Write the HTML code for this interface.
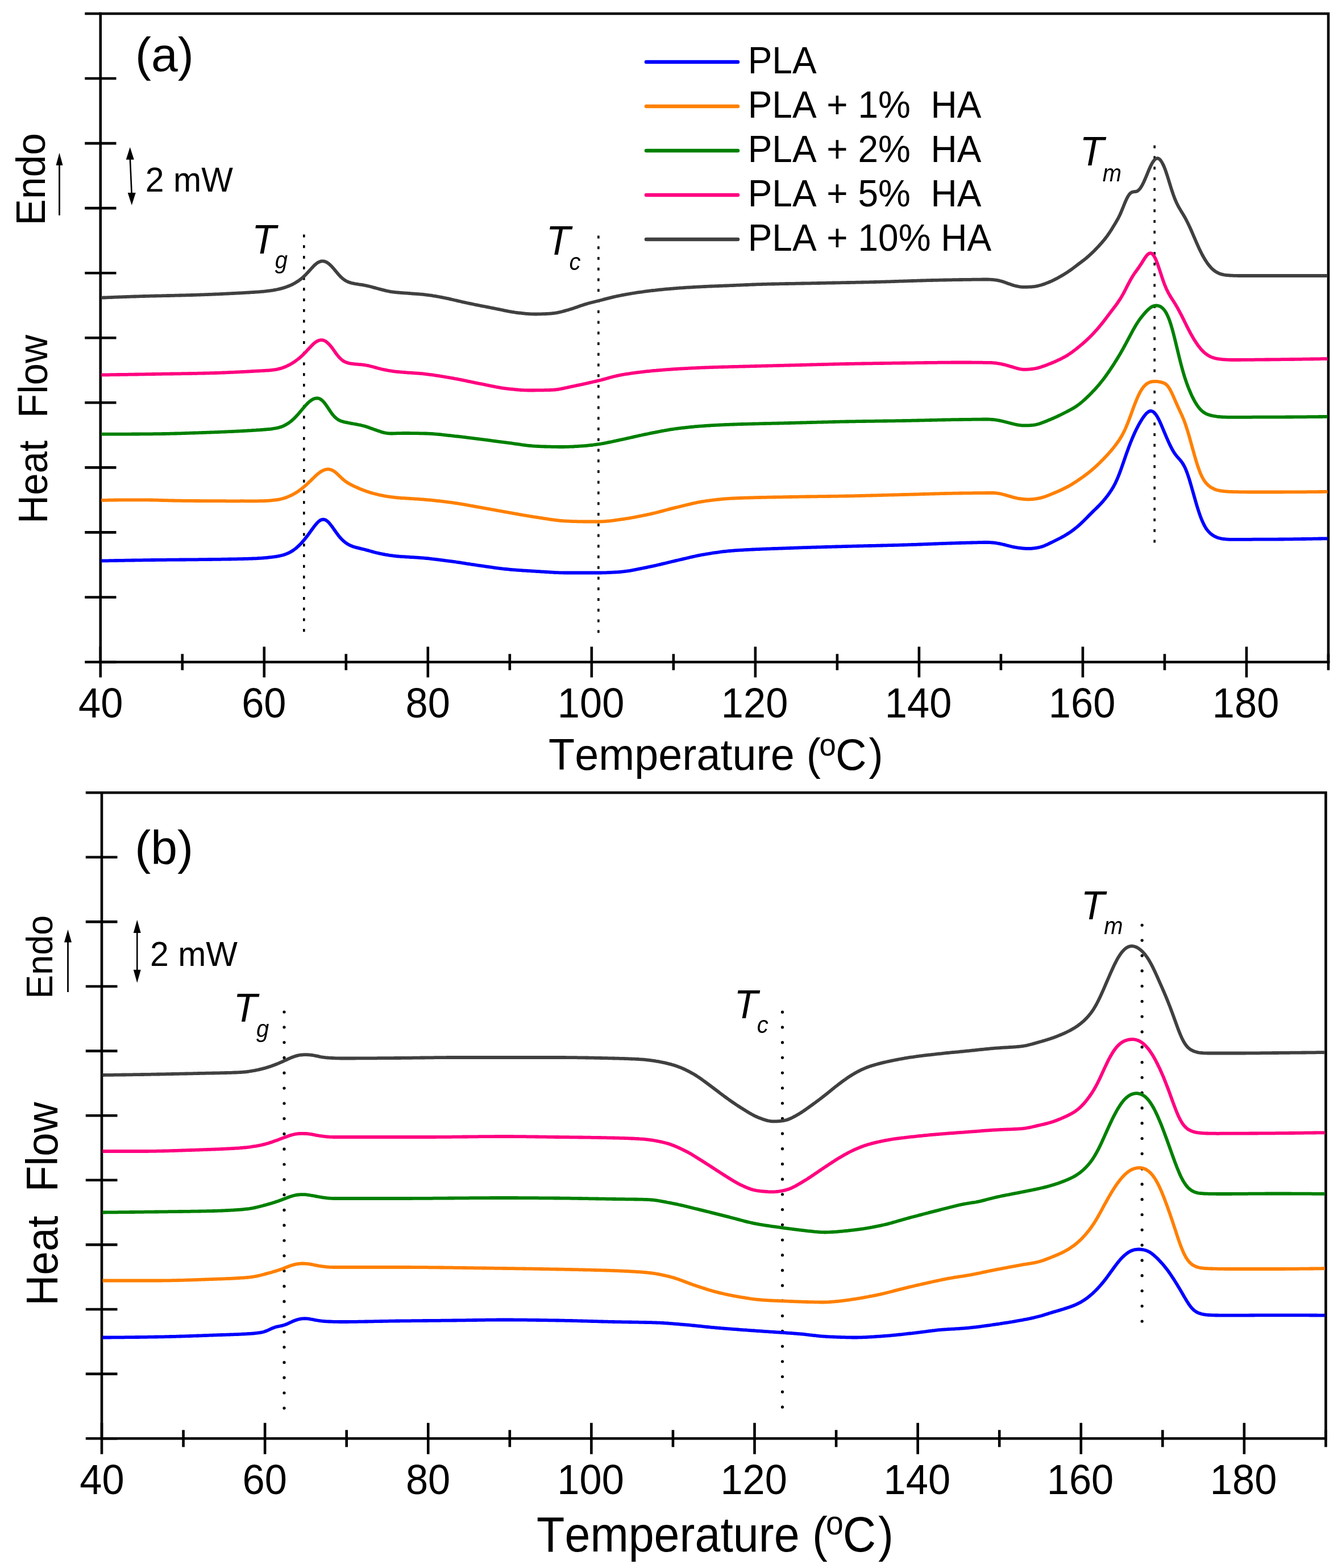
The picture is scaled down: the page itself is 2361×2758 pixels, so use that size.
<!DOCTYPE html>
<html><head><meta charset="utf-8"><title>DSC thermograms</title>
<style>
html,body{margin:0;padding:0;background:#fff;}
body{width:2361px;height:2758px;position:relative;overflow:hidden;}
text{font-family:"Liberation Sans",Arial,sans-serif;fill:#000;font-kerning:none;}
</style></head><body>
<div id="fig" style="position:absolute;left:0;top:0;width:2361px;height:2758px">
<svg xmlns="http://www.w3.org/2000/svg" width="2361" height="2758" viewBox="0 0 2361 2758" style="position:absolute;left:0;top:0">
<path d="M176.75,24.00 H2337.00 V1164.50" fill="none" stroke="#000" stroke-width="4.60" stroke-linecap="square"/>
<path d="M176.75,24.00 V1164.50 H2337.00" fill="none" stroke="#000" stroke-width="4.60" stroke-linecap="square"/>
<path d="M149.25,1164.50 H204.50 M149.25,1050.45 H204.50 M149.25,936.40 H204.50 M149.25,822.35 H204.50 M149.25,708.30 H204.50 M149.25,594.25 H204.50 M149.25,480.20 H204.50 M149.25,366.15 H204.50 M149.25,252.10 H204.50 M149.25,138.05 H204.50 M149.25,24.00 H176.75 M176.75,1137.50 V1191.50 M320.77,1150.30 V1178.70 M464.78,1137.50 V1191.50 M608.80,1150.30 V1178.70 M752.82,1137.50 V1191.50 M896.83,1150.30 V1178.70 M1040.85,1137.50 V1191.50 M1184.87,1150.30 V1178.70 M1328.88,1137.50 V1191.50 M1472.90,1150.30 V1178.70 M1616.92,1137.50 V1191.50 M1760.93,1150.30 V1178.70 M1904.95,1137.50 V1191.50 M2048.97,1150.30 V1178.70 M2192.98,1137.50 V1191.50 M2337.00,1150.30 V1178.70" fill="none" stroke="#000" stroke-width="4.60"/>
<text transform="translate(138.11,1261.70) scale(1,1.0407)" style="font-size:70.50px" text-anchor="start">40</text>
<text transform="translate(425.16,1261.70) scale(1,1.0407)" style="font-size:70.50px" text-anchor="start">60</text>
<text transform="translate(713.45,1261.70) scale(1,1.0407)" style="font-size:70.50px" text-anchor="start">80</text>
<text transform="translate(980.73,1261.70) scale(1,1.0407)" style="font-size:70.50px" text-anchor="start">100</text>
<text transform="translate(1268.76,1261.70) scale(1,1.0407)" style="font-size:70.50px" text-anchor="start">120</text>
<text transform="translate(1556.80,1261.70) scale(1,1.0407)" style="font-size:70.50px" text-anchor="start">140</text>
<text transform="translate(1844.83,1261.70) scale(1,1.0407)" style="font-size:70.50px" text-anchor="start">160</text>
<text transform="translate(2132.86,1261.70) scale(1,1.0407)" style="font-size:70.50px" text-anchor="start">180</text>
<path d="M179.00,1394.20 H2332.50 V2530.20" fill="none" stroke="#000" stroke-width="4.60" stroke-linecap="square"/>
<path d="M179.00,1394.20 V2530.20 H2332.50" fill="none" stroke="#000" stroke-width="4.60" stroke-linecap="square"/>
<path d="M150.80,2530.20 H206.50 M150.80,2416.60 H206.50 M150.80,2303.00 H206.50 M150.80,2189.40 H206.50 M150.80,2075.80 H206.50 M150.80,1962.20 H206.50 M150.80,1848.60 H206.50 M150.80,1735.00 H206.50 M150.80,1621.40 H206.50 M150.80,1507.80 H206.50 M150.80,1394.20 H179.00 M179.00,2502.70 V2557.70 M322.57,2515.20 V2545.20 M466.13,2502.70 V2557.70 M609.70,2515.20 V2545.20 M753.27,2502.70 V2557.70 M896.83,2515.20 V2545.20 M1040.40,2502.70 V2557.70 M1183.97,2515.20 V2545.20 M1327.53,2502.70 V2557.70 M1471.10,2515.20 V2545.20 M1614.67,2502.70 V2557.70 M1758.23,2515.20 V2545.20 M1901.80,2502.70 V2557.70 M2045.37,2515.20 V2545.20 M2188.93,2502.70 V2557.70 M2332.50,2515.20 V2545.20" fill="none" stroke="#000" stroke-width="4.60"/>
<text transform="translate(140.36,2628.20) scale(1,1.0407)" style="font-size:70.50px" text-anchor="start">40</text>
<text transform="translate(426.51,2628.20) scale(1,1.0407)" style="font-size:70.50px" text-anchor="start">60</text>
<text transform="translate(713.90,2628.20) scale(1,1.0407)" style="font-size:70.50px" text-anchor="start">80</text>
<text transform="translate(980.28,2628.20) scale(1,1.0407)" style="font-size:70.50px" text-anchor="start">100</text>
<text transform="translate(1267.41,2628.20) scale(1,1.0407)" style="font-size:70.50px" text-anchor="start">120</text>
<text transform="translate(1554.55,2628.20) scale(1,1.0407)" style="font-size:70.50px" text-anchor="start">140</text>
<text transform="translate(1841.68,2628.20) scale(1,1.0407)" style="font-size:70.50px" text-anchor="start">160</text>
<text transform="translate(2128.81,2628.20) scale(1,1.0407)" style="font-size:70.50px" text-anchor="start">180</text>
<path d="M534.80,412.50 V1111.50" stroke="#000" stroke-width="3.60" stroke-dasharray="5.00 13.75" stroke-linecap="butt" fill="none"/>
<path d="M1052.90,414.40 V1113.40" stroke="#000" stroke-width="3.60" stroke-dasharray="5.00 13.75" stroke-linecap="butt" fill="none"/>
<path d="M2031.20,255.80 V954.80" stroke="#000" stroke-width="3.60" stroke-dasharray="5.00 13.75" stroke-linecap="butt" fill="none"/>
<path d="M500.00,1780.00 V2479.00" stroke="#000" stroke-width="5.20" stroke-dasharray="0.01 26.79" stroke-linecap="round" fill="none"/>
<path d="M1376.50,1780.20 V2476.00" stroke="#000" stroke-width="5.20" stroke-dasharray="0.01 26.71" stroke-linecap="round" fill="none"/>
<path d="M2009.20,1627.30 V2325.00" stroke="#000" stroke-width="5.20" stroke-dasharray="0.01 26.79" stroke-linecap="round" fill="none"/>
<path d="M178.2,986.5l2,-0.1 2,0 2,0 2,-0.1 2,0 2,0 2,-0.1 2,0 2,-0.1 2,0 2,0 2,-0.1 2,0 2,0 2,-0.1 2,0 2,0 2,-0.1 2,0 2,0 2,-0.1 2,0 2,0 2,-0.1 2,0 2,0 2,-0.1 2,0 2,0 2,-0.1 2,0 2,0 2,0 2,-0.1 2,0 2,0 2,-0.1 2,0 2,0 2,0 2,-0.1 2,0 2,0 2,-0.1 2,0 2,0 2,0 2,-0.1 2,0 2,0 2,0 2,0 2,-0.1 2,0 2,0 2,0 2,0 2,-0.1 2,0 2,0 2,0 2,0 2,-0.1 2,0 2,0 2,0 2,0 2,0 2,-0.1 2,0 2,0 2,0 2,0 2,0 2,-0.1 2,0 2,0 2,0 2,0 2,0 2,-0.1 2,0 2,0 2,0 2,0 2,-0.1 2,0 2,0 2,0 2,-0.1 2,0 2,0 2,0 2,-0.1 2,0 2,0 2,0 2,-0.1 2,0 2,0 2,0 2,-0.1 2,0 2,0 2,0 2,-0.1 2,0 2,0 2,-0.1 2,0 2,0 2,-0.1 2,0 2,0 2,-0.1 2,0 2,0 2,-0.1 2,0 2,-0.1 2,0 2,-0.1 2,0 2,0 2,-0.1 2,-0.1 2,0 2,-0.1 2,0 2,-0.1 2,0 2,-0.1 2,-0.1 2,-0.1 2,0 2,-0.1 2,-0.1 2,-0.2 2,-0.1 2,-0.1 2,-0.2 2,-0.1 2,-0.2 2,-0.2 2,-0.1 2,-0.2 2,-0.3 2,-0.2 2,-0.2 2,-0.2 2,-0.3 2,-0.2 2,-0.3 2,-0.3 2,-0.4 2,-0.3 2,-0.4 2,-0.5 2,-0.5 2,-0.5 2,-0.6 2,-0.7 2,-0.8 2,-0.8 2,-0.9 2,-1 2,-1.1 2,-1.3 2,-1.3 2,-1.5 2,-1.5 2,-1.7 2,-1.8 2,-1.9 2,-1.9 2,-2.1 2,-2.3 2,-2.3 2,-2.4 2,-2.5 2,-2.6 2,-2.7 2,-2.7 2,-2.7 2,-2.8 2,-2.8 2,-2.7 2,-2.6 2,-2.4 2,-2.3 2,-1.9 2,-1.6 2,-1.2 2,-0.8 2,-0.4 2,0.2 2,0.6 2,1 2,1.6 2,1.9 2,2.3 2,2.5 2,2.6 2,2.8 2,2.9 2,2.8 2,2.8 2,2.7 2,2.6 2,2.4 2,2.2 2,2 2,1.9 2,1.7 2,1.6 2,1.4 2,1.2 2,1.1 2,1 2,0.8 2,0.8 2,0.7 2,0.6 2,0.6 2,0.5 2,0.5 2,0.5 2,0.5 2,0.5 2,0.4 2,0.5 2,0.5 2,0.6 2,0.5 2,0.5 2,0.6 2,0.5 2,0.6 2,0.5 2,0.6 2,0.5 2,0.5 2,0.5 2,0.4 2,0.5 2,0.4 2,0.4 2,0.4 2,0.4 2,0.4 2,0.3 2,0.3 2,0.4 2,0.3 2,0.2 2,0.3 2,0.3 2,0.2 2,0.2 2,0.2 2,0.2 2,0.2 2,0.1 2,0.2 2,0.1 2,0.1 2,0.2 2,0.1 2,0.1 2,0.1 2,0.1 2,0.2 2,0.1 2,0.1 2,0.1 2,0.1 2,0.2 2,0.1 2,0.1 2,0.2 2,0.1 2,0.2 2,0.1 2,0.2 2,0.2 2,0.2 2,0.2 2,0.2 2,0.2 2,0.2 2,0.3 2,0.2 2,0.2 2,0.3 2,0.2 2,0.3 2,0.2 2,0.3 2,0.2 2,0.3 2,0.2 2,0.3 2,0.3 2,0.2 2,0.3 2,0.3 2,0.2 2,0.3 2,0.3 2,0.3 2,0.2 2,0.3 2,0.3 2,0.3 2,0.3 2,0.3 2,0.3 2,0.3 2,0.3 2,0.3 2,0.4 2,0.3 2,0.3 2,0.3 2,0.3 2,0.3 2,0.3 2,0.3 2,0.3 2,0.3 2,0.3 2,0.3 2,0.3 2,0.3 2,0.3 2,0.2 2,0.3 2,0.3 2,0.3 2,0.3 2,0.3 2,0.3 2,0.2 2,0.3 2,0.3 2,0.3 2,0.3 2,0.2 2,0.3 2,0.2 2,0.3 2,0.2 2,0.3 2,0.2 2,0.2 2,0.2 2,0.2 2,0.2 2,0.2 2,0.2 2,0.2 2,0.1 2,0.2 2,0.1 2,0.2 2,0.2 2,0.1 2,0.2 2,0.1 2,0.1 2,0.2 2,0.1 2,0.1 2,0.2 2,0.1 2,0.1 2,0.1 2,0.2 2,0.1 2,0.1 2,0.1 2,0.1 2,0.2 2,0.1 2,0.1 2,0.1 2,0.2 2,0.1 2,0.1 2,0.2 2,0.1 2,0.1 2,0.1 2,0.2 2,0.1 2,0.1 2,0.1 2,0.2 2,0.1 2,0.1 2,0 2,0.1 2,0.1 2,0.1 2,0 2,0 2,0.1 2,0 2,0 2,0 2,0 2,0 2,0 2,0 2,0 2,0 2,0 2,0 2,0 2,0 2,0 2,0 2,0 2,0 2,0 2,0 2,0 2,0 2,0 2,0 2,0 2,0 2,0 2,0 2,0 2,0 2,0 2,0 2,0 2,0 2,-0.1 2,0 2,-0.1 2,0 2,-0.1 2,-0.1 2,-0.1 2,-0.1 2,-0.1 2,-0.1 2,-0.1 2,-0.1 2,-0.1 2,-0.1 2,-0.2 2,-0.1 2,-0.2 2,-0.2 2,-0.2 2,-0.2 2,-0.3 2,-0.2 2,-0.3 2,-0.3 2,-0.3 2,-0.4 2,-0.3 2,-0.4 2,-0.4 2,-0.4 2,-0.4 2,-0.4 2,-0.4 2,-0.4 2,-0.4 2,-0.4 2,-0.4 2,-0.4 2,-0.4 2,-0.4 2,-0.5 2,-0.4 2,-0.4 2,-0.4 2,-0.4 2,-0.5 2,-0.4 2,-0.4 2,-0.5 2,-0.5 2,-0.4 2,-0.5 2,-0.5 2,-0.5 2,-0.4 2,-0.5 2,-0.5 2,-0.5 2,-0.5 2,-0.5 2,-0.4 2,-0.5 2,-0.5 2,-0.4 2,-0.5 2,-0.5 2,-0.4 2,-0.5 2,-0.5 2,-0.4 2,-0.5 2,-0.5 2,-0.4 2,-0.5 2,-0.5 2,-0.5 2,-0.4 2,-0.5 2,-0.5 2,-0.4 2,-0.5 2,-0.4 2,-0.5 2,-0.4 2,-0.4 2,-0.4 2,-0.4 2,-0.4 2,-0.3 2,-0.4 2,-0.3 2,-0.4 2,-0.3 2,-0.3 2,-0.3 2,-0.3 2,-0.4 2,-0.3 2,-0.3 2,-0.3 2,-0.3 2,-0.2 2,-0.3 2,-0.3 2,-0.3 2,-0.2 2,-0.3 2,-0.2 2,-0.2 2,-0.2 2,-0.2 2,-0.2 2,-0.2 2,-0.2 2,-0.2 2,-0.1 2,-0.2 2,-0.1 2,-0.1 2,-0.2 2,-0.1 2,-0.1 2,-0.1 2,-0.1 2,-0.2 2,-0.1 2,-0.1 2,-0.1 2,-0.1 2,-0.1 2,-0.1 2,-0.1 2,-0.1 2,-0.1 2,-0.1 2,-0.1 2,-0.1 2,0 2,-0.1 2,-0.1 2,-0.1 2,-0.1 2,-0.1 2,0 2,-0.1 2,-0.1 2,-0.1 2,0 2,-0.1 2,-0.1 2,-0.1 2,0 2,-0.1 2,-0.1 2,0 2,-0.1 2,-0.1 2,0 2,-0.1 2,-0.1 2,-0.1 2,0 2,-0.1 2,-0.1 2,0 2,-0.1 2,-0.1 2,-0.1 2,0 2,-0.1 2,-0.1 2,0 2,-0.1 2,-0.1 2,0 2,-0.1 2,-0.1 2,0 2,-0.1 2,0 2,-0.1 2,-0.1 2,0 2,-0.1 2,-0.1 2,0 2,-0.1 2,0 2,-0.1 2,-0.1 2,0 2,-0.1 2,0 2,-0.1 2,0 2,-0.1 2,-0.1 2,0 2,-0.1 2,0 2,-0.1 2,0 2,-0.1 2,-0.1 2,0 2,-0.1 2,0 2,-0.1 2,0 2,-0.1 2,0 2,-0.1 2,0 2,-0.1 2,-0.1 2,0 2,-0.1 2,0 2,-0.1 2,0 2,-0.1 2,0 2,-0.1 2,0 2,-0.1 2,0 2,-0.1 2,0 2,-0.1 2,0 2,-0.1 2,0 2,-0.1 2,0 2,-0.1 2,0 2,0 2,-0.1 2,0 2,-0.1 2,0 2,-0.1 2,0 2,-0.1 2,0 2,-0.1 2,0 2,-0.1 2,0 2,-0.1 2,0 2,-0.1 2,0 2,-0.1 2,0 2,-0.1 2,0 2,-0.1 2,0 2,-0.1 2,0 2,-0.1 2,0 2,-0.1 2,-0.1 2,0 2,-0.1 2,0 2,-0.1 2,-0.1 2,0 2,-0.1 2,-0.1 2,0 2,-0.1 2,-0.1 2,0 2,-0.1 2,-0.1 2,-0.1 2,0 2,-0.1 2,-0.1 2,-0.1 2,0 2,-0.1 2,-0.1 2,-0.1 2,-0.1 2,0 2,-0.1 2,-0.1 2,-0.1 2,0 2,-0.1 2,-0.1 2,-0.1 2,-0.1 2,0 2,-0.1 2,-0.1 2,0 2,-0.1 2,-0.1 2,-0.1 2,0 2,-0.1 2,0 2,-0.1 2,-0.1 2,0 2,-0.1 2,0 2,-0.1 2,-0.1 2,0 2,-0.1 2,0 2,-0.1 2,0 2,-0.1 2,0 2,-0.1 2,0 2,-0.1 2,0 2,-0.1 2,0 2,-0.1 2,0 2,-0.1 2,0 2,0 2,-0.1 2,0 2,-0.1 2,0 2,0 2,0 2,0 2,0.1 2,0.1 2,0.1 2,0.2 2,0.2 2,0.2 2,0.3 2,0.3 2,0.3 2,0.4 2,0.4 2,0.4 2,0.5 2,0.4 2,0.5 2,0.6 2,0.5 2,0.5 2,0.5 2,0.5 2,0.5 2,0.4 2,0.4 2,0.4 2,0.3 2,0.3 2,0.3 2,0.2 2,0.2 2,0.3 2,0.2 2,0.1 2,0.2 2,0.1 2,0 2,0 2,0 2,-0.1 2,-0.2 2,-0.2 2,-0.2 2,-0.3 2,-0.3 2,-0.4 2,-0.4 2,-0.5 2,-0.6 2,-0.6 2,-0.7 2,-0.8 2,-0.9 2,-0.9 2,-0.9 2,-1 2,-1 2,-0.9 2,-1 2,-1 2,-1 2,-1 2,-1 2,-1 2,-1 2,-1 2,-1.1 2,-1.1 2,-1.1 2,-1.2 2,-1.2 2,-1.3 2,-1.2 2,-1.4 2,-1.4 2,-1.4 2,-1.5 2,-1.5 2,-1.6 2,-1.6 2,-1.7 2,-1.7 2,-1.8 2,-1.9 2,-1.9 2,-1.9 2,-2 2,-2 2,-2 2,-2.1 2,-2 2,-2 2,-2 2,-2 2,-2 2,-1.9 2,-1.9 2,-2 2,-2 2,-2 2,-2.1 2,-2.2 2,-2.2 2,-2.4 2,-2.4 2,-2.5 2,-2.6 2,-2.7 2,-2.9 2,-2.9 2,-3.1 2,-3.3 2,-3.6 2,-3.9 2,-4.2 2,-4.6 2,-4.9 2,-5.2 2,-5.5 2,-5.6 2,-5.8 2,-5.8 2,-5.8 2,-5.7 2,-5.5 2,-5.5 2,-5.2 2,-5 2,-4.9 2,-4.6 2,-4.5 2,-4.2 2,-4.1 2,-3.9 2,-3.6 2,-3.5 2,-3.3 2,-3.1 2,-2.9 2,-2.6 2,-2.4 2,-1.9 2,-1.6 2,-1 2,-0.5 2,0.2 2,0.8 2,1.4 2,2.1 2,2.7 2,3.2 2,3.7 2,4.1 2,4.3 2,4.7 2,4.7 2,4.8 2,4.8 2,4.7 2,4.6 2,4.4 2,4.3 2,4 2,3.9 2,3.5 2,3.2 2,2.8 2,2.5 2,2.3 2,2.3 2,2.2 2,2.5 2,2.8 2,3.2 2,3.8 2,4.4 2,5.1 2,5.7 2,6.1 2,6.7 2,6.8 2,7.1 2,7.1 2,7 2,7 2,6.7 2,6.4 2,6 2,5.6 2,5.1 2,4.6 2,4.2 2,3.7 2,3.2 2,2.7 2,2.4 2,2.1 2,1.8 2,1.5 2,1.4 2,1.2 2,1 2,0.9 2,0.8 2,0.6 2,0.5 2,0.5 2,0.4 2,0.3 2,0.2 2,0.2 2,0.2 2,0.1 2,0.1 2,0 2,0 2,0 2,0 2,0 2,0 2,0 2,0 2,0 2,0 2,0 2,0 2,0 2,0 2,0 2,0 2,0 2,0 2,0 2,0 2,-0.1 2,0 2,0 2,0 2,0 2,0 2,0 2,0 2,0 2,0 2,0 2,0 2,0 2,0 2,0 2,0 2,-0.1 2,0 2,0 2,0 2,0 2,0 2,0 2,-0.1 2,0 2,0 2,0 2,0 2,-0.1 2,0 2,0 2,0 2,-0.1 2,0 2,0 2,0 2,-0.1 2,0 2,0 2,0 2,-0.1 2,0 2,0 2,-0.1 2,0 2,0 2,0 2,-0.1 2,0 2,0 2,-0.1 2,0 2,0 2,-0.1 2,0 2,0 2,-0.1 2,0 2,-0.1 2,0 2,0 2,-0.1 2,0 2,0 2,-0.1 2,0 1.3,0" fill="none" stroke="#0000ff" stroke-width="5.8" stroke-linejoin="round" stroke-linecap="butt"/>
<path d="M180.5,2352.5l2,0 2,0 2,0 2,0 2,0 2,0 2,0 2,-0.1 2,0 2,0 2,0 2,0 2,0 2,0 2,-0.1 2,0 2,0 2,0 2,0 2,-0.1 2,0 2,0 2,0 2,0 2,-0.1 2,0 2,0 2,0 2,-0.1 2,0 2,0 2,0 2,-0.1 2,0 2,0 2,-0.1 2,0 2,0 2,0 2,-0.1 2,0 2,0 2,-0.1 2,0 2,0 2,-0.1 2,0 2,0 2,-0.1 2,0 2,0 2,-0.1 2,0 2,0 2,-0.1 2,0 2,-0.1 2,0 2,-0.1 2,0 2,-0.1 2,0 2,-0.1 2,0 2,-0.1 2,-0.1 2,0 2,-0.1 2,0 2,-0.1 2,-0.1 2,0 2,-0.1 2,0 2,-0.1 2,-0.1 2,0 2,-0.1 2,-0.1 2,-0.1 2,0 2,-0.1 2,-0.1 2,0 2,-0.1 2,-0.1 2,0 2,-0.1 2,-0.1 2,-0.1 2,0 2,-0.1 2,-0.1 2,-0.1 2,0 2,-0.1 2,-0.1 2,-0.1 2,0 2,-0.1 2,-0.1 2,0 2,-0.1 2,-0.1 2,0 2,-0.1 2,-0.1 2,0 2,-0.1 2,0 2,-0.1 2,-0.1 2,-0.1 2,0 2,-0.1 2,-0.1 2,-0.1 2,0 2,-0.1 2,-0.1 2,-0.1 2,-0.1 2,-0.1 2,-0.1 2,-0.1 2,-0.1 2,-0.2 2,-0.1 2,-0.1 2,-0.1 2,-0.2 2,-0.1 2,-0.2 2,-0.2 2,-0.2 2,-0.2 2,-0.3 2,-0.3 2,-0.3 2,-0.4 2,-0.4 2,-0.5 2,-0.7 2,-0.8 2,-0.8 2,-0.9 2,-0.9 2,-1 2,-0.9 2,-0.8 2,-0.7 2,-0.7 2,-0.6 2,-0.4 2,-0.4 2,-0.4 2,-0.4 2,-0.4 2,-0.6 2,-0.6 2,-0.7 2,-0.8 2,-0.9 2,-0.9 2,-1 2,-0.9 2,-0.9 2,-0.9 2,-0.8 2,-0.7 2,-0.6 2,-0.6 2,-0.5 2,-0.4 2,-0.3 2,-0.2 2,-0.1 2,-0.1 2,0.1 2,0.1 2,0.3 2,0.2 2,0.4 2,0.3 2,0.4 2,0.4 2,0.4 2,0.3 2,0.4 2,0.3 2,0.3 2,0.3 2,0.2 2,0.2 2,0.2 2,0.1 2,0.2 2,0.1 2,0.1 2,0 2,0.1 2,0.1 2,0.1 2,0 2,0.1 2,0 2,0 2,0.1 2,0 2,0 2,0 2,0 2,0 2,0 2,0 2,0 2,-0.1 2,0 2,0 2,0 2,0 2,-0.1 2,0 2,0 2,-0.1 2,0 2,0 2,-0.1 2,0 2,0 2,-0.1 2,0 2,0 2,-0.1 2,0 2,0 2,-0.1 2,0 2,-0.1 2,0 2,0 2,-0.1 2,0 2,-0.1 2,0 2,0 2,-0.1 2,0 2,-0.1 2,0 2,0 2,-0.1 2,0 2,0 2,-0.1 2,0 2,0 2,-0.1 2,0 2,0 2,0 2,-0.1 2,0 2,0 2,0 2,0 2,-0.1 2,0 2,0 2,0 2,0 2,-0.1 2,0 2,0 2,0 2,0 2,-0.1 2,0 2,0 2,0 2,0 2,-0.1 2,0 2,0 2,0 2,0 2,-0.1 2,0 2,0 2,0 2,0 2,-0.1 2,0 2,0 2,0 2,0 2,0 2,-0.1 2,0 2,0 2,0 2,0 2,-0.1 2,0 2,0 2,0 2,0 2,-0.1 2,0 2,0 2,0 2,-0.1 2,0 2,0 2,0 2,-0.1 2,0 2,0 2,0 2,-0.1 2,0 2,0 2,-0.1 2,0 2,0 2,-0.1 2,0 2,0 2,0 2,-0.1 2,0 2,0 2,-0.1 2,0 2,0 2,0 2,-0.1 2,0 2,0 2,0 2,-0.1 2,0 2,0 2,0 2,0 2,0 2,-0.1 2,0 2,0 2,0 2,0 2,0 2,0 2,0 2,0 2,0 2,0 2,0 2,0 2,0 2,0 2,0.1 2,0 2,0 2,0 2,0 2,0 2,0 2,0.1 2,0 2,0 2,0 2,0 2,0.1 2,0 2,0 2,0 2,0.1 2,0 2,0 2,0 2,0.1 2,0 2,0 2,0.1 2,0 2,0 2,0 2,0.1 2,0 2,0 2,0.1 2,0 2,0 2,0.1 2,0 2,0 2,0 2,0.1 2,0 2,0 2,0.1 2,0 2,0 2,0.1 2,0 2,0.1 2,0 2,0 2,0.1 2,0 2,0.1 2,0 2,0.1 2,0 2,0.1 2,0 2,0.1 2,0 2,0.1 2,0.1 2,0 2,0.1 2,0 2,0.1 2,0 2,0.1 2,0 2,0.1 2,0.1 2,0 2,0.1 2,0 2,0.1 2,0 2,0.1 2,0.1 2,0 2,0.1 2,0 2,0.1 2,0 2,0.1 2,0 2,0.1 2,0 2,0.1 2,0 2,0.1 2,0 2,0.1 2,0 2,0 2,0.1 2,0 2,0 2,0.1 2,0 2,0 2,0.1 2,0 2,0 2,0.1 2,0 2,0 2,0.1 2,0 2,0 2,0.1 2,0 2,0 2,0.1 2,0 2,0 2,0.1 2,0 2,0.1 2,0 2,0.1 2,0 2,0 2,0.1 2,0 2,0.1 2,0.1 2,0 2,0.1 2,0.1 2,0 2,0.1 2,0.1 2,0.1 2,0.1 2,0.1 2,0.2 2,0.1 2,0.1 2,0.2 2,0.1 2,0.2 2,0.1 2,0.2 2,0.2 2,0.1 2,0.2 2,0.1 2,0.2 2,0.2 2,0.2 2,0.1 2,0.2 2,0.2 2,0.1 2,0.2 2,0.2 2,0.2 2,0.2 2,0.2 2,0.2 2,0.2 2,0.2 2,0.2 2,0.2 2,0.2 2,0.2 2,0.2 2,0.2 2,0.3 2,0.2 2,0.2 2,0.2 2,0.2 2,0.2 2,0.2 2,0.2 2,0.2 2,0.1 2,0.2 2,0.2 2,0.2 2,0.2 2,0.1 2,0.2 2,0.2 2,0.1 2,0.2 2,0.1 2,0.2 2,0.2 2,0.1 2,0.2 2,0.1 2,0.2 2,0.2 2,0.1 2,0.2 2,0.1 2,0.2 2,0.1 2,0.2 2,0.1 2,0.2 2,0.1 2,0.2 2,0.1 2,0.1 2,0.2 2,0.1 2,0.2 2,0.1 2,0.2 2,0.1 2,0.1 2,0.2 2,0.1 2,0.2 2,0.1 2,0.1 2,0.2 2,0.1 2,0.1 2,0.2 2,0.1 2,0.2 2,0.1 2,0.1 2,0.2 2,0.1 2,0.1 2,0.2 2,0.1 2,0.1 2,0.2 2,0.1 2,0.1 2,0.2 2,0.1 2,0.1 2,0.2 2,0.1 2,0.1 2,0.2 2,0.1 2,0.2 2,0.1 2,0.1 2,0.2 2,0.1 2,0.2 2,0.1 2,0.2 2,0.2 2,0.1 2,0.2 2,0.2 2,0.2 2,0.2 2,0.2 2,0.3 2,0.2 2,0.2 2,0.3 2,0.2 2,0.2 2,0.3 2,0.2 2,0.2 2,0.3 2,0.2 2,0.2 2,0.2 2,0.2 2,0.1 2,0.2 2,0.1 2,0.1 2,0.2 2,0.1 2,0.1 2,0.1 2,0 2,0.1 2,0.1 2,0.1 2,0.1 2,0.1 2,0 2,0.1 2,0.1 2,0.1 2,0 2,0.1 2,0 2,0.1 2,0 2,0.1 2,0 2,0 2,0.1 2,0 2,0 2,0 2,0 2,0 2,-0.1 2,0 2,-0.1 2,0 2,-0.1 2,-0.1 2,0 2,-0.1 2,-0.1 2,-0.2 2,-0.1 2,-0.1 2,-0.1 2,-0.1 2,-0.2 2,-0.1 2,-0.1 2,-0.2 2,-0.1 2,-0.1 2,-0.2 2,-0.1 2,-0.2 2,-0.1 2,-0.2 2,-0.1 2,-0.2 2,-0.1 2,-0.2 2,-0.2 2,-0.2 2,-0.2 2,-0.2 2,-0.2 2,-0.2 2,-0.2 2,-0.2 2,-0.2 2,-0.2 2,-0.3 2,-0.2 2,-0.2 2,-0.2 2,-0.3 2,-0.2 2,-0.2 2,-0.2 2,-0.2 2,-0.3 2,-0.2 2,-0.2 2,-0.3 2,-0.2 2,-0.3 2,-0.2 2,-0.3 2,-0.3 2,-0.2 2,-0.3 2,-0.2 2,-0.3 2,-0.3 2,-0.2 2,-0.3 2,-0.2 2,-0.3 2,-0.2 2,-0.2 2,-0.3 2,-0.2 2,-0.2 2,-0.2 2,-0.1 2,-0.2 2,-0.2 2,-0.1 2,-0.2 2,-0.1 2,-0.1 2,-0.2 2,-0.1 2,-0.1 2,-0.1 2,-0.1 2,-0.1 2,-0.2 2,-0.1 2,-0.1 2,-0.1 2,-0.2 2,-0.1 2,-0.1 2,-0.2 2,-0.1 2,-0.2 2,-0.2 2,-0.1 2,-0.2 2,-0.2 2,-0.2 2,-0.2 2,-0.3 2,-0.2 2,-0.2 2,-0.3 2,-0.2 2,-0.3 2,-0.2 2,-0.3 2,-0.3 2,-0.2 2,-0.3 2,-0.3 2,-0.3 2,-0.3 2,-0.2 2,-0.3 2,-0.3 2,-0.3 2,-0.3 2,-0.3 2,-0.3 2,-0.3 2,-0.2 2,-0.3 2,-0.3 2,-0.4 2,-0.3 2,-0.3 2,-0.3 2,-0.3 2,-0.3 2,-0.3 2,-0.4 2,-0.3 2,-0.3 2,-0.4 2,-0.3 2,-0.4 2,-0.3 2,-0.4 2,-0.3 2,-0.4 2,-0.4 2,-0.3 2,-0.4 2,-0.4 2,-0.4 2,-0.3 2,-0.4 2,-0.4 2,-0.4 2,-0.5 2,-0.4 2,-0.4 2,-0.5 2,-0.5 2,-0.5 2,-0.5 2,-0.5 2,-0.6 2,-0.5 2,-0.6 2,-0.6 2,-0.7 2,-0.6 2,-0.6 2,-0.6 2,-0.7 2,-0.6 2,-0.6 2,-0.6 2,-0.6 2,-0.5 2,-0.6 2,-0.6 2,-0.6 2,-0.6 2,-0.6 2,-0.6 2,-0.6 2,-0.7 2,-0.6 2,-0.6 2,-0.7 2,-0.7 2,-0.7 2,-0.7 2,-0.8 2,-0.7 2,-0.8 2,-0.9 2,-0.9 2,-1 2,-1 2,-1 2,-1.2 2,-1.2 2,-1.2 2,-1.3 2,-1.4 2,-1.5 2,-1.5 2,-1.6 2,-1.7 2,-1.7 2,-1.8 2,-1.9 2,-1.9 2,-2 2,-2.1 2,-2.1 2,-2.2 2,-2.3 2,-2.3 2,-2.4 2,-2.5 2,-2.5 2,-2.6 2,-2.7 2,-2.7 2,-2.8 2,-2.7 2,-2.8 2,-2.8 2,-2.8 2,-2.7 2,-2.6 2,-2.6 2,-2.4 2,-2.4 2,-2.2 2,-2.1 2,-1.9 2,-1.9 2,-1.6 2,-1.6 2,-1.4 2,-1.3 2,-1.1 2,-0.9 2,-0.8 2,-0.6 2,-0.4 2,-0.3 2,-0.3 2,-0.1 2,0 2,0.1 2,0.2 2,0.3 2,0.4 2,0.5 2,0.6 2,0.8 2,0.9 2,1.1 2,1.2 2,1.5 2,1.5 2,1.7 2,1.8 2,1.8 2,2 2,2 2,2.1 2,2.2 2,2.2 2,2.3 2,2.4 2,2.5 2,2.5 2,2.7 2,2.7 2,2.9 2,2.9 2,3 2,3.1 2,3.1 2,3.2 2,3.2 2,3.3 2,3.3 2,3.4 2,3.4 2,3.4 2,3.5 2,3.4 2,3.4 2,3.3 2,3.1 2,3 2,2.7 2,2.4 2,2.1 2,1.9 2,1.6 2,1.3 2,1.1 2,0.9 2,0.7 2,0.7 2,0.5 2,0.4 2,0.4 2,0.3 2,0.3 2,0.2 2,0.1 2,0.2 2,0 2,0.1 2,0.1 2,0 2,0.1 2,0 2,0 2,0.1 2,0 2,0 2,0.1 2,0 2,0 2,0 2,0 2,0 2,0 2,0 2,0 2,0 2,0 2,0 2,0 2,0 2,0 2,0 2,0 2,0 2,-0.1 2,0 2,0 2,0 2,0 2,0 2,-0.1 2,0 2,0 2,0 2,0 2,-0.1 2,0 2,0 2,0 2,0 2,0 2,-0.1 2,0 2,0 2,0 2,0 2,0 2,0 2,0 2,0 2,0 2,0 2,0 2,0 2,0 2,0 2,0 2,0 2,0 2,0 2,0 2,0 2,0 2,0 2,0 2,0 2,0 2,0 2,0 2,0 2,0 2,0 2,0 2,0 2,0 2,0.1 2,0 2,0 2,0 2,0 2,0 2,0 2,0 2,0.1 2,0 2,0 2,0 2,0 2,0 2,0 2,0.1 2,0 2,0 2,0 2,0 2,0.1 2,0 0.5,0" fill="none" stroke="#0000ff" stroke-width="5.8" stroke-linejoin="round" stroke-linecap="butt"/>
<path d="M178.2,880.0l2,-0.1 2,0 2,-0.1 2,0 2,0 2,-0.1 2,0 2,-0.1 2,0 2,0 2,-0.1 2,0 2,0 2,0 2,-0.1 2,0 2,0 2,0 2,0 2,-0.1 2,0 2,0 2,0 2,0 2,0 2,0 2,0 2,0 2,0 2,0 2,0 2,0 2,0 2,0 2,0 2,0 2,0 2,0 2,0 2,0.1 2,0 2,0 2,0.1 2,0 2,0 2,0.1 2,0 2,0.1 2,0 2,0.1 2,0 2,0.1 2,0.1 2,0 2,0.1 2,0 2,0.1 2,0 2,0.1 2,0 2,0.1 2,0 2,0.1 2,0 2,0.1 2,0 2,0 2,0.1 2,0 2,0 2,0.1 2,0 2,0 2,0 2,0 2,0.1 2,0 2,0 2,0 2,0 2,0 2,0.1 2,0 2,0 2,0 2,0 2,0.1 2,0 2,0 2,0 2,0 2,0 2,0 2,0.1 2,0 2,0 2,0 2,0 2,0 2,0 2,0 2,0 2,0 2,0 2,0 2,0 2,0 2,0 2,0 2,0.1 2,0 2,0 2,0 2,0 2,0 2,0 2,0 2,0 2,0 2,0 2,0 2,0 2,-0.1 2,0 2,0 2,0.1 2,0 2,0 2,0 2,0 2,0 2,0 2,0 2,0 2,0 2,0 2,0 2,0 2,-0.1 2,0 2,0 2,-0.1 2,0 2,-0.1 2,-0.1 2,-0.1 2,-0.2 2,-0.1 2,-0.2 2,-0.2 2,-0.2 2,-0.2 2,-0.2 2,-0.3 2,-0.2 2,-0.4 2,-0.3 2,-0.5 2,-0.5 2,-0.5 2,-0.7 2,-0.6 2,-0.8 2,-0.8 2,-0.8 2,-0.9 2,-0.9 2,-1 2,-1.1 2,-1.1 2,-1.2 2,-1.2 2,-1.3 2,-1.4 2,-1.5 2,-1.5 2,-1.6 2,-1.6 2,-1.7 2,-1.8 2,-1.8 2,-1.9 2,-1.9 2,-1.9 2,-1.9 2,-2 2,-1.9 2,-2 2,-1.8 2,-1.8 2,-1.7 2,-1.5 2,-1.4 2,-1.2 2,-1 2,-0.9 2,-0.7 2,-0.4 2,-0.2 2,0 2,0.3 2,0.5 2,0.8 2,1 2,1.3 2,1.5 2,1.7 2,1.8 2,2 2,1.9 2,1.9 2,1.9 2,1.7 2,1.7 2,1.5 2,1.4 2,1.3 2,1.1 2,1.1 2,1.1 2,1 2,0.9 2,1 2,0.9 2,0.9 2,0.9 2,0.9 2,0.8 2,0.8 2,0.8 2,0.8 2,0.7 2,0.7 2,0.7 2,0.6 2,0.7 2,0.6 2,0.6 2,0.6 2,0.5 2,0.5 2,0.5 2,0.5 2,0.5 2,0.4 2,0.4 2,0.4 2,0.4 2,0.4 2,0.3 2,0.4 2,0.3 2,0.3 2,0.3 2,0.3 2,0.2 2,0.3 2,0.2 2,0.2 2,0.2 2,0.2 2,0.2 2,0.1 2,0.2 2,0.1 2,0.1 2,0.2 2,0.1 2,0.1 2,0.1 2,0.2 2,0.1 2,0.1 2,0.1 2,0.1 2,0.2 2,0.1 2,0.1 2,0.1 2,0.2 2,0.1 2,0.2 2,0.1 2,0.2 2,0.2 2,0.2 2,0.1 2,0.2 2,0.2 2,0.2 2,0.2 2,0.2 2,0.2 2,0.2 2,0.3 2,0.2 2,0.2 2,0.2 2,0.3 2,0.2 2,0.2 2,0.3 2,0.2 2,0.3 2,0.2 2,0.3 2,0.2 2,0.3 2,0.3 2,0.3 2,0.3 2,0.2 2,0.4 2,0.3 2,0.3 2,0.3 2,0.4 2,0.3 2,0.3 2,0.4 2,0.3 2,0.4 2,0.4 2,0.3 2,0.4 2,0.3 2,0.4 2,0.4 2,0.3 2,0.4 2,0.4 2,0.3 2,0.4 2,0.3 2,0.4 2,0.3 2,0.4 2,0.3 2,0.4 2,0.4 2,0.3 2,0.4 2,0.4 2,0.3 2,0.4 2,0.3 2,0.4 2,0.4 2,0.3 2,0.4 2,0.4 2,0.3 2,0.4 2,0.3 2,0.4 2,0.4 2,0.3 2,0.4 2,0.3 2,0.4 2,0.3 2,0.4 2,0.3 2,0.4 2,0.3 2,0.4 2,0.4 2,0.3 2,0.4 2,0.3 2,0.4 2,0.3 2,0.4 2,0.3 2,0.3 2,0.4 2,0.3 2,0.3 2,0.3 2,0.4 2,0.3 2,0.3 2,0.3 2,0.3 2,0.3 2,0.3 2,0.3 2,0.3 2,0.4 2,0.3 2,0.3 2,0.3 2,0.3 2,0.3 2,0.3 2,0.3 2,0.3 2,0.3 2,0.2 2,0.3 2,0.2 2,0.3 2,0.2 2,0.2 2,0.1 2,0.2 2,0.1 2,0.1 2,0.2 2,0.1 2,0 2,0.1 2,0.1 2,0.1 2,0.1 2,0 2,0.1 2,0 2,0.1 2,0 2,0.1 2,0 2,0 2,0.1 2,0 2,0 2,0 2,0 2,0 2,0 2,0 2,0 2,0 2,0 2,0 2,0 2,0 2,0 2,-0.1 2,0 2,-0.1 2,-0.1 2,-0.1 2,-0.2 2,-0.2 2,-0.2 2,-0.2 2,-0.2 2,-0.3 2,-0.2 2,-0.3 2,-0.3 2,-0.2 2,-0.3 2,-0.3 2,-0.2 2,-0.3 2,-0.3 2,-0.3 2,-0.3 2,-0.3 2,-0.3 2,-0.3 2,-0.3 2,-0.4 2,-0.3 2,-0.4 2,-0.4 2,-0.3 2,-0.4 2,-0.4 2,-0.4 2,-0.4 2,-0.4 2,-0.4 2,-0.4 2,-0.4 2,-0.4 2,-0.4 2,-0.4 2,-0.5 2,-0.4 2,-0.4 2,-0.5 2,-0.5 2,-0.4 2,-0.5 2,-0.5 2,-0.5 2,-0.5 2,-0.6 2,-0.5 2,-0.5 2,-0.5 2,-0.6 2,-0.5 2,-0.5 2,-0.5 2,-0.6 2,-0.5 2,-0.5 2,-0.5 2,-0.5 2,-0.5 2,-0.5 2,-0.5 2,-0.4 2,-0.5 2,-0.5 2,-0.5 2,-0.5 2,-0.5 2,-0.5 2,-0.5 2,-0.5 2,-0.5 2,-0.4 2,-0.5 2,-0.5 2,-0.5 2,-0.4 2,-0.4 2,-0.5 2,-0.4 2,-0.4 2,-0.4 2,-0.3 2,-0.4 2,-0.3 2,-0.3 2,-0.3 2,-0.3 2,-0.3 2,-0.2 2,-0.3 2,-0.3 2,-0.2 2,-0.3 2,-0.2 2,-0.2 2,-0.3 2,-0.2 2,-0.2 2,-0.2 2,-0.2 2,-0.2 2,-0.2 2,-0.2 2,-0.1 2,-0.2 2,-0.1 2,-0.2 2,-0.1 2,-0.1 2,-0.1 2,-0.1 2,-0.1 2,-0.1 2,-0.1 2,0 2,-0.1 2,-0.1 2,-0.1 2,0 2,-0.1 2,-0.1 2,0 2,-0.1 2,0 2,-0.1 2,-0.1 2,0 2,-0.1 2,0 2,-0.1 2,0 2,-0.1 2,0 2,-0.1 2,0 2,-0.1 2,0 2,0 2,-0.1 2,0 2,-0.1 2,0 2,0 2,-0.1 2,0 2,-0.1 2,0 2,0 2,-0.1 2,0 2,0 2,-0.1 2,0 2,0 2,-0.1 2,0 2,-0.1 2,0 2,0 2,-0.1 2,0 2,0 2,-0.1 2,0 2,0 2,-0.1 2,0 2,0 2,-0.1 2,0 2,0 2,-0.1 2,0 2,0 2,-0.1 2,0 2,0 2,0 2,-0.1 2,0 2,0 2,0 2,-0.1 2,0 2,0 2,-0.1 2,0 2,0 2,0 2,-0.1 2,0 2,0 2,0 2,-0.1 2,0 2,0 2,-0.1 2,0 2,0 2,0 2,-0.1 2,0 2,0 2,-0.1 2,0 2,0 2,-0.1 2,0 2,0 2,-0.1 2,0 2,0 2,-0.1 2,0 2,-0.1 2,0 2,0 2,-0.1 2,0 2,-0.1 2,0 2,-0.1 2,0 2,-0.1 2,0 2,-0.1 2,0 2,-0.1 2,0 2,-0.1 2,0 2,-0.1 2,0 2,-0.1 2,0 2,-0.1 2,0 2,-0.1 2,0 2,-0.1 2,0 2,-0.1 2,-0.1 2,0 2,-0.1 2,0 2,-0.1 2,0 2,-0.1 2,0 2,-0.1 2,0 2,-0.1 2,0 2,-0.1 2,0 2,-0.1 2,-0.1 2,0 2,-0.1 2,0 2,-0.1 2,0 2,-0.1 2,0 2,-0.1 2,0 2,-0.1 2,0 2,-0.1 2,0 2,-0.1 2,-0.1 2,0 2,-0.1 2,0 2,-0.1 2,-0.1 2,0 2,-0.1 2,0 2,-0.1 2,0 2,-0.1 2,-0.1 2,0 2,-0.1 2,0 2,-0.1 2,0 2,-0.1 2,0 2,-0.1 2,0 2,-0.1 2,0 2,-0.1 2,0 2,-0.1 2,0 2,-0.1 2,0 2,0 2,-0.1 2,0 2,-0.1 2,0 2,0 2,0 2,-0.1 2,0 2,0 2,-0.1 2,0 2,0 2,0 2,0 2,-0.1 2,0 2,0 2,0 2,-0.1 2,0 2,0 2,0 2,0 2,-0.1 2,0 2,0 2,0 2,0 2,0 2,-0.1 2,0 2,0 2,0 2,0 2,0 2,0 2,0 2,0.1 2,0.2 2,0.2 2,0.3 2,0.3 2,0.4 2,0.5 2,0.5 2,0.5 2,0.5 2,0.6 2,0.6 2,0.6 2,0.6 2,0.5 2,0.6 2,0.6 2,0.5 2,0.5 2,0.4 2,0.5 2,0.3 2,0.3 2,0.3 2,0.3 2,0.2 2,0.2 2,0.1 2,0.1 2,0.1 2,0 2,-0.1 2,-0.1 2,-0.1 2,-0.2 2,-0.2 2,-0.3 2,-0.3 2,-0.4 2,-0.4 2,-0.4 2,-0.5 2,-0.6 2,-0.6 2,-0.6 2,-0.7 2,-0.8 2,-0.7 2,-0.8 2,-0.8 2,-0.9 2,-0.8 2,-0.8 2,-0.8 2,-0.9 2,-0.8 2,-0.9 2,-0.9 2,-0.9 2,-0.9 2,-1 2,-1 2,-1 2,-1 2,-1.1 2,-1 2,-1.2 2,-1.1 2,-1.2 2,-1.3 2,-1.2 2,-1.3 2,-1.4 2,-1.3 2,-1.4 2,-1.4 2,-1.4 2,-1.4 2,-1.4 2,-1.5 2,-1.5 2,-1.5 2,-1.5 2,-1.6 2,-1.6 2,-1.7 2,-1.7 2,-1.7 2,-1.8 2,-1.8 2,-1.9 2,-1.9 2,-1.9 2,-2 2,-2 2,-2 2,-2.1 2,-2 2,-2.2 2,-2.1 2,-2.2 2,-2.3 2,-2.3 2,-2.3 2,-2.5 2,-2.5 2,-2.6 2,-2.6 2,-2.8 2,-2.8 2,-3.1 2,-3.2 2,-3.4 2,-3.8 2,-4 2,-4.3 2,-4.7 2,-4.9 2,-5.2 2,-5.4 2,-5.4 2,-5.5 2,-5.5 2,-5.3 2,-5.1 2,-4.8 2,-4.6 2,-4.2 2,-3.8 2,-3.3 2,-3 2,-2.6 2,-2.1 2,-1.9 2,-1.5 2,-1.1 2,-1 2,-0.6 2,-0.5 2,-0.3 2,-0.2 2,-0.1 2,0.1 2,0.2 2,0.2 2,0.4 2,0.4 2,0.5 2,0.6 2,0.8 2,1.1 2,1.6 2,2.1 2,2.7 2,3.2 2,3.8 2,4.1 2,4.4 2,4.6 2,4.6 2,4.5 2,4.4 2,4.4 2,4.2 2,4.4 2,4.4 2,4.8 2,5.2 2,5.7 2,6.1 2,6.5 2,6.8 2,7.1 2,7.2 2,7.2 2,7.2 2,7 2,6.8 2,6.5 2,6 2,5.5 2,5 2,4.4 2,3.9 2,3.4 2,2.8 2,2.5 2,2.1 2,1.8 2,1.6 2,1.4 2,1.2 2,1 2,1 2,0.8 2,0.7 2,0.5 2,0.5 2,0.4 2,0.4 2,0.2 2,0.3 2,0.2 2,0.1 2,0.2 2,0.1 2,0.2 2,0.1 2,0 2,0.1 2,0.1 2,0 2,0.1 2,0 2,0 2,0.1 2,0 2,0 2,0.1 2,0 2,0 2,0 2,0.1 2,0 2,0 2,0 2,0 2,0 2,0 2,0 2,0 2,0 2,0 2,0 2,0 2,0 2,0 2,0 2,0 2,0 2,0 2,0 2,0 2,0 2,0 2,0 2,0 2,0 2,0 2,0 2,0 2,0 2,0 2,0 2,0 2,-0.1 2,0 2,0 2,0 2,0 2,0 2,0 2,0 2,0 2,0 2,0 2,0 2,-0.1 2,0 2,0 2,0 2,0 2,0 2,0 2,0 2,-0.1 2,0 2,0 2,0 2,0 2,-0.1 2,0 2,0 2,0 2,0 2,-0.1 2,0 2,0 2,0 2,-0.1 2,0 2,0 2,0 1.3,-0.1" fill="none" stroke="#ff8000" stroke-width="5.8" stroke-linejoin="round" stroke-linecap="butt"/>
<path d="M180.5,2252.5l2,0 2,0 2,0 2,0 2,0 2,0 2,0 2,0 2,0 2,0 2,0 2,0 2,0 2,0 2,0 2,0 2,0 2,0 2,0 2,0 2,0 2,0 2,0 2,0 2,0 2,0 2,0 2,0 2,0 2,0 2,0 2,0 2,0 2,0 2,0 2,0 2,0 2,0 2,0 2,0 2,0 2,0 2,0 2,0 2,0 2,0 2,0 2,0 2,0 2,0 2,0 2,0 2,-0.1 2,0 2,0 2,0 2,0 2,-0.1 2,0 2,0 2,-0.1 2,0 2,-0.1 2,0 2,0 2,-0.1 2,0 2,-0.1 2,0 2,-0.1 2,0 2,-0.1 2,-0.1 2,0 2,-0.1 2,0 2,-0.1 2,-0.1 2,0 2,-0.1 2,-0.1 2,0 2,-0.1 2,-0.1 2,0 2,-0.1 2,-0.1 2,0 2,-0.1 2,-0.1 2,-0.1 2,0 2,-0.1 2,-0.1 2,0 2,-0.1 2,-0.1 2,-0.1 2,0 2,-0.1 2,-0.1 2,0 2,-0.1 2,-0.1 2,-0.1 2,0 2,-0.1 2,-0.1 2,-0.1 2,-0.1 2,0 2,-0.1 2,-0.1 2,-0.1 2,-0.1 2,-0.1 2,-0.1 2,-0.2 2,-0.1 2,-0.1 2,-0.1 2,-0.2 2,-0.1 2,-0.1 2,-0.2 2,-0.1 2,-0.2 2,-0.2 2,-0.2 2,-0.2 2,-0.3 2,-0.2 2,-0.4 2,-0.3 2,-0.4 2,-0.4 2,-0.5 2,-0.4 2,-0.5 2,-0.5 2,-0.5 2,-0.5 2,-0.6 2,-0.5 2,-0.5 2,-0.6 2,-0.5 2,-0.6 2,-0.5 2,-0.6 2,-0.6 2,-0.6 2,-0.6 2,-0.7 2,-0.6 2,-0.7 2,-0.7 2,-0.7 2,-0.8 2,-0.8 2,-0.7 2,-0.8 2,-0.8 2,-0.8 2,-0.7 2,-0.7 2,-0.6 2,-0.6 2,-0.5 2,-0.5 2,-0.3 2,-0.3 2,-0.2 2,-0.2 2,-0.1 2,0 2,0 2,0.1 2,0.2 2,0.1 2,0.2 2,0.3 2,0.3 2,0.4 2,0.4 2,0.4 2,0.4 2,0.4 2,0.4 2,0.4 2,0.3 2,0.3 2,0.3 2,0.3 2,0.2 2,0.3 2,0.2 2,0.1 2,0.2 2,0.1 2,0.1 2,0 2,0.1 2,0 2,0 2,0 2,0 2,0 2,0 2,0 2,0 2,0 2,0 2,0 2,0 2,0 2,0 2,0 2,0 2,0 2,0 2,0 2,0 2,0 2,0 2,0 2,0 2,0 2,0 2,0 2,0 2,0 2,0 2,0 2,0 2,0 2,0 2,0 2,0 2,0 2,0 2,0 2,0 2,0 2,0 2,0 2,0 2,0 2,0 2,0 2,0 2,0 2,0 2,0 2,0 2,0 2,0 2,0 2,0 2,0 2,0 2,0 2,0 2,0 2,0 2,0 2,0 2,0 2,0 2,0 2,0 2,0.1 2,0 2,0 2,0 2,0 2,0 2,0 2,0 2,0.1 2,0 2,0 2,0 2,0 2,0 2,0 2,0.1 2,0 2,0 2,0 2,0 2,0.1 2,0 2,0 2,0 2,0 2,0.1 2,0 2,0 2,0 2,0.1 2,0 2,0 2,0 2,0.1 2,0 2,0 2,0 2,0.1 2,0 2,0 2,0 2,0.1 2,0 2,0 2,0 2,0.1 2,0 2,0 2,0.1 2,0 2,0 2,0 2,0.1 2,0 2,0 2,0.1 2,0 2,0 2,0 2,0.1 2,0 2,0 2,0.1 2,0 2,0 2,0 2,0.1 2,0 2,0 2,0.1 2,0 2,0 2,0 2,0.1 2,0 2,0 2,0.1 2,0 2,0 2,0 2,0.1 2,0 2,0 2,0 2,0.1 2,0 2,0 2,0.1 2,0 2,0 2,0 2,0.1 2,0 2,0 2,0.1 2,0 2,0 2,0 2,0.1 2,0 2,0 2,0.1 2,0 2,0 2,0.1 2,0 2,0 2,0.1 2,0 2,0 2,0.1 2,0 2,0 2,0.1 2,0 2,0 2,0.1 2,0 2,0 2,0.1 2,0 2,0 2,0.1 2,0 2,0.1 2,0 2,0 2,0.1 2,0 2,0 2,0.1 2,0 2,0.1 2,0 2,0 2,0.1 2,0 2,0.1 2,0 2,0 2,0.1 2,0 2,0.1 2,0 2,0.1 2,0 2,0 2,0.1 2,0 2,0.1 2,0 2,0.1 2,0 2,0.1 2,0 2,0.1 2,0 2,0 2,0.1 2,0.1 2,0 2,0.1 2,0 2,0.1 2,0 2,0.1 2,0 2,0.1 2,0.1 2,0 2,0.1 2,0 2,0.1 2,0.1 2,0 2,0.1 2,0.1 2,0 2,0.1 2,0.1 2,0.1 2,0 2,0.1 2,0.1 2,0.1 2,0.1 2,0.1 2,0.1 2,0 2,0.1 2,0.1 2,0.1 2,0.2 2,0.1 2,0.1 2,0.1 2,0.1 2,0.1 2,0.2 2,0.1 2,0.1 2,0.2 2,0.1 2,0.2 2,0.1 2,0.2 2,0.2 2,0.2 2,0.2 2,0.2 2,0.2 2,0.3 2,0.2 2,0.3 2,0.4 2,0.3 2,0.3 2,0.4 2,0.4 2,0.4 2,0.4 2,0.5 2,0.4 2,0.4 2,0.5 2,0.5 2,0.4 2,0.5 2,0.6 2,0.5 2,0.6 2,0.6 2,0.6 2,0.7 2,0.6 2,0.7 2,0.8 2,0.7 2,0.8 2,0.7 2,0.8 2,0.8 2,0.7 2,0.8 2,0.7 2,0.7 2,0.8 2,0.7 2,0.7 2,0.6 2,0.7 2,0.7 2,0.6 2,0.7 2,0.7 2,0.6 2,0.7 2,0.6 2,0.7 2,0.6 2,0.7 2,0.6 2,0.6 2,0.6 2,0.5 2,0.6 2,0.6 2,0.5 2,0.5 2,0.5 2,0.5 2,0.5 2,0.5 2,0.4 2,0.5 2,0.5 2,0.4 2,0.4 2,0.5 2,0.4 2,0.4 2,0.4 2,0.4 2,0.4 2,0.4 2,0.3 2,0.4 2,0.3 2,0.4 2,0.3 2,0.4 2,0.3 2,0.3 2,0.3 2,0.4 2,0.3 2,0.3 2,0.3 2,0.3 2,0.3 2,0.2 2,0.3 2,0.2 2,0.3 2,0.2 2,0.2 2,0.2 2,0.2 2,0.1 2,0.2 2,0.1 2,0.1 2,0.2 2,0.1 2,0.1 2,0.1 2,0.1 2,0.1 2,0.1 2,0.1 2,0.1 2,0 2,0.1 2,0.1 2,0.1 2,0.1 2,0.1 2,0 2,0.1 2,0.1 2,0.1 2,0.1 2,0.1 2,0.1 2,0 2,0.1 2,0.1 2,0.1 2,0.1 2,0 2,0.1 2,0.1 2,0.1 2,0 2,0.1 2,0.1 2,0 2,0.1 2,0 2,0.1 2,0 2,0.1 2,0 2,0 2,0.1 2,0 2,0.1 2,0 2,0 2,0.1 2,0 2,0 2,0 2,0 2,-0.1 2,0 2,-0.1 2,-0.1 2,-0.2 2,-0.1 2,-0.2 2,-0.1 2,-0.2 2,-0.2 2,-0.2 2,-0.2 2,-0.2 2,-0.2 2,-0.2 2,-0.3 2,-0.2 2,-0.3 2,-0.2 2,-0.3 2,-0.3 2,-0.3 2,-0.3 2,-0.3 2,-0.3 2,-0.3 2,-0.3 2,-0.3 2,-0.3 2,-0.4 2,-0.3 2,-0.4 2,-0.3 2,-0.4 2,-0.3 2,-0.4 2,-0.4 2,-0.3 2,-0.4 2,-0.4 2,-0.4 2,-0.3 2,-0.4 2,-0.4 2,-0.4 2,-0.4 2,-0.5 2,-0.4 2,-0.4 2,-0.5 2,-0.4 2,-0.5 2,-0.5 2,-0.5 2,-0.5 2,-0.5 2,-0.5 2,-0.5 2,-0.5 2,-0.5 2,-0.6 2,-0.5 2,-0.5 2,-0.5 2,-0.5 2,-0.5 2,-0.5 2,-0.5 2,-0.5 2,-0.5 2,-0.5 2,-0.5 2,-0.5 2,-0.5 2,-0.5 2,-0.4 2,-0.5 2,-0.5 2,-0.4 2,-0.5 2,-0.5 2,-0.4 2,-0.5 2,-0.4 2,-0.5 2,-0.4 2,-0.5 2,-0.4 2,-0.5 2,-0.4 2,-0.5 2,-0.4 2,-0.5 2,-0.4 2,-0.5 2,-0.4 2,-0.4 2,-0.5 2,-0.4 2,-0.4 2,-0.4 2,-0.5 2,-0.4 2,-0.4 2,-0.4 2,-0.4 2,-0.4 2,-0.4 2,-0.4 2,-0.4 2,-0.3 2,-0.4 2,-0.3 2,-0.4 2,-0.3 2,-0.3 2,-0.3 2,-0.3 2,-0.3 2,-0.2 2,-0.3 2,-0.3 2,-0.4 2,-0.3 2,-0.3 2,-0.4 2,-0.3 2,-0.4 2,-0.3 2,-0.4 2,-0.4 2,-0.4 2,-0.4 2,-0.4 2,-0.4 2,-0.4 2,-0.4 2,-0.5 2,-0.4 2,-0.4 2,-0.4 2,-0.4 2,-0.5 2,-0.4 2,-0.4 2,-0.4 2,-0.4 2,-0.4 2,-0.4 2,-0.4 2,-0.4 2,-0.4 2,-0.4 2,-0.3 2,-0.4 2,-0.4 2,-0.4 2,-0.4 2,-0.4 2,-0.3 2,-0.4 2,-0.4 2,-0.4 2,-0.4 2,-0.3 2,-0.4 2,-0.4 2,-0.3 2,-0.4 2,-0.4 2,-0.3 2,-0.4 2,-0.4 2,-0.3 2,-0.4 2,-0.3 2,-0.3 2,-0.3 2,-0.4 2,-0.3 2,-0.3 2,-0.3 2,-0.4 2,-0.3 2,-0.4 2,-0.4 2,-0.5 2,-0.5 2,-0.5 2,-0.6 2,-0.6 2,-0.6 2,-0.7 2,-0.8 2,-0.7 2,-0.8 2,-0.8 2,-0.7 2,-0.8 2,-0.8 2,-0.8 2,-0.8 2,-0.9 2,-0.8 2,-0.8 2,-0.9 2,-0.9 2,-0.9 2,-1 2,-1 2,-1 2,-1.1 2,-1.1 2,-1.2 2,-1.2 2,-1.3 2,-1.3 2,-1.4 2,-1.4 2,-1.5 2,-1.6 2,-1.6 2,-1.8 2,-1.7 2,-1.9 2,-2 2,-2 2,-2.1 2,-2.2 2,-2.3 2,-2.4 2,-2.5 2,-2.5 2,-2.7 2,-2.8 2,-2.9 2,-3 2,-3.1 2,-3.3 2,-3.4 2,-3.5 2,-3.6 2,-3.6 2,-3.7 2,-3.7 2,-3.7 2,-3.6 2,-3.6 2,-3.6 2,-3.5 2,-3.5 2,-3.3 2,-3.3 2,-3.3 2,-3.1 2,-3 2,-3 2,-2.8 2,-2.6 2,-2.6 2,-2.4 2,-2.3 2,-2.2 2,-2 2,-1.9 2,-1.7 2,-1.6 2,-1.4 2,-1.3 2,-1.1 2,-0.9 2,-0.8 2,-0.6 2,-0.5 2,-0.4 2,-0.2 2,0 2,0 2,0.3 2,0.4 2,0.6 2,0.8 2,1 2,1.3 2,1.4 2,1.7 2,2 2,2.1 2,2.5 2,2.8 2,3 2,3.4 2,3.6 2,3.9 2,4.3 2,4.4 2,4.8 2,4.9 2,5.1 2,5.3 2,5.4 2,5.5 2,5.6 2,5.7 2,5.8 2,5.9 2,6 2,6 2,6.1 2,6.1 2,6 2,5.8 2,5.6 2,5.3 2,4.9 2,4.6 2,4 2,3.6 2,3.2 2,2.7 2,2.4 2,2 2,1.7 2,1.4 2,1.2 2,1 2,0.9 2,0.6 2,0.6 2,0.5 2,0.3 2,0.3 2,0.3 2,0.1 2,0.2 2,0.1 2,0.1 2,0.1 2,0.1 2,0.1 2,0 2,0.1 2,0 2,0.1 2,0 2,0.1 2,0 2,0 2,0.1 2,0 2,0 2,0.1 2,0 2,0 2,0 2,0 2,0 2,0 2,0 2,0 2,0 2,0 2,0 2,0 2,0 2,0 2,0 2,0 2,0 2,0 2,0 2,0 2,0 2,0 2,0 2,0 2,0 2,0 2,0 2,0 2,0 2,0 2,0 2,0 2,0 2,0 2,0 2,0 2,0 2,0 2,0 2,0 2,0 2,0 2,0 2,0 2,0 2,0 2,0 2,0 2,0 2,0 2,0 2,0 2,0 2,-0.1 2,0 2,0 2,0 2,0 2,0 2,0 2,-0.1 2,0 2,0 2,0 2,0 2,-0.1 2,0 2,0 2,0 2,0 2,-0.1 2,0 2,0 2,0 2,-0.1 2,0 2,0 2,0 2,-0.1 2,0 2,0 2,-0.1 2,0 2,0 2,0 2,-0.1 2,0 2,0 0.5,0" fill="none" stroke="#ff8000" stroke-width="5.8" stroke-linejoin="round" stroke-linecap="butt"/>
<path d="M178.2,763.7l2,0 2,0 2,0 2,0 2,0 2,0 2,0 2,0 2,0 2,0 2,0 2,0 2,0 2,0 2,0 2,0 2,0 2,0 2,-0.1 2,0 2,0 2,0 2,0 2,0 2,0 2,0 2,-0.1 2,0 2,0 2,0 2,0 2,0 2,0 2,-0.1 2,0 2,0 2,0 2,0 2,0 2,0 2,-0.1 2,0 2,0 2,0 2,0 2,-0.1 2,0 2,0 2,0 2,0 2,-0.1 2,0 2,0 2,-0.1 2,0 2,0 2,-0.1 2,0 2,-0.1 2,0 2,-0.1 2,0 2,-0.1 2,0 2,-0.1 2,0 2,-0.1 2,0 2,-0.1 2,0 2,-0.1 2,-0.1 2,0 2,-0.1 2,-0.1 2,0 2,-0.1 2,-0.1 2,0 2,-0.1 2,-0.1 2,0 2,-0.1 2,-0.1 2,0 2,-0.1 2,-0.1 2,0 2,-0.1 2,-0.1 2,-0.1 2,0 2,-0.1 2,-0.1 2,0 2,-0.1 2,-0.1 2,-0.1 2,0 2,-0.1 2,-0.1 2,0 2,-0.1 2,-0.1 2,-0.1 2,-0.1 2,0 2,-0.1 2,-0.1 2,-0.1 2,-0.1 2,-0.1 2,0 2,-0.1 2,-0.1 2,-0.1 2,-0.1 2,-0.1 2,-0.1 2,-0.1 2,-0.1 2,-0.1 2,-0.1 2,-0.1 2,-0.1 2,-0.1 2,-0.1 2,-0.2 2,-0.1 2,-0.1 2,-0.1 2,-0.1 2,-0.2 2,-0.1 2,-0.1 2,-0.1 2,-0.2 2,-0.1 2,-0.1 2,-0.2 2,-0.1 2,-0.1 2,-0.2 2,-0.2 2,-0.1 2,-0.2 2,-0.2 2,-0.2 2,-0.2 2,-0.3 2,-0.3 2,-0.3 2,-0.3 2,-0.4 2,-0.4 2,-0.5 2,-0.6 2,-0.6 2,-0.7 2,-0.8 2,-0.9 2,-1.1 2,-1.1 2,-1.2 2,-1.3 2,-1.5 2,-1.6 2,-1.7 2,-1.8 2,-1.9 2,-2.1 2,-2.1 2,-2.2 2,-2.3 2,-2.4 2,-2.3 2,-2.4 2,-2.4 2,-2.4 2,-2.2 2,-2.1 2,-2 2,-1.8 2,-1.6 2,-1.4 2,-1.2 2,-0.9 2,-0.6 2,-0.4 2,-0.1 2,0.3 2,0.6 2,1.1 2,1.4 2,1.9 2,2.2 2,2.5 2,2.8 2,2.9 2,3 2,3 2,3 2,2.8 2,2.5 2,2.2 2,2 2,1.6 2,1.5 2,1.2 2,1 2,0.8 2,0.6 2,0.6 2,0.5 2,0.4 2,0.4 2,0.4 2,0.4 2,0.4 2,0.4 2,0.4 2,0.3 2,0.4 2,0.3 2,0.4 2,0.4 2,0.3 2,0.4 2,0.5 2,0.5 2,0.5 2,0.6 2,0.6 2,0.7 2,0.7 2,0.7 2,0.7 2,0.7 2,0.7 2,0.8 2,0.7 2,0.7 2,0.7 2,0.6 2,0.7 2,0.7 2,0.6 2,0.5 2,0.5 2,0.4 2,0.4 2,0.2 2,0.2 2,0.1 2,0.1 2,0 2,-0.1 2,0 2,-0.1 2,-0.1 2,0 2,-0.1 2,0 2,0 2,-0.1 2,0 2,0 2,0 2,0 2,0 2,0 2,0.1 2,0 2,0 2,0 2,0 2,0.1 2,0 2,0 2,0.1 2,0 2,0 2,0.1 2,0 2,0.1 2,0 2,0.1 2,0.1 2,0.1 2,0.1 2,0.1 2,0.1 2,0.2 2,0.2 2,0.1 2,0.2 2,0.2 2,0.2 2,0.2 2,0.3 2,0.2 2,0.2 2,0.2 2,0.2 2,0.3 2,0.2 2,0.2 2,0.2 2,0.2 2,0.2 2,0.3 2,0.2 2,0.2 2,0.2 2,0.3 2,0.2 2,0.2 2,0.3 2,0.2 2,0.2 2,0.3 2,0.2 2,0.3 2,0.2 2,0.3 2,0.2 2,0.3 2,0.2 2,0.3 2,0.2 2,0.3 2,0.3 2,0.2 2,0.3 2,0.2 2,0.3 2,0.2 2,0.3 2,0.2 2,0.3 2,0.3 2,0.2 2,0.3 2,0.3 2,0.2 2,0.3 2,0.2 2,0.3 2,0.3 2,0.2 2,0.3 2,0.3 2,0.2 2,0.3 2,0.2 2,0.3 2,0.3 2,0.2 2,0.3 2,0.2 2,0.3 2,0.3 2,0.3 2,0.3 2,0.2 2,0.3 2,0.3 2,0.3 2,0.3 2,0.3 2,0.3 2,0.2 2,0.3 2,0.3 2,0.2 2,0.2 2,0.2 2,0.2 2,0.2 2,0.2 2,0.1 2,0.1 2,0.1 2,0.1 2,0.1 2,0.1 2,0.1 2,0 2,0.1 2,0.1 2,0 2,0.1 2,0 2,0.1 2,0 2,0.1 2,0 2,0 2,0.1 2,0 2,0 2,0.1 2,0 2,0 2,0 2,0 2,0 2,-0.1 2,0 2,0 2,-0.1 2,-0.1 2,-0.1 2,0 2,-0.1 2,-0.2 2,-0.1 2,-0.1 2,-0.1 2,-0.2 2,-0.1 2,-0.1 2,-0.2 2,-0.1 2,-0.2 2,-0.1 2,-0.2 2,-0.2 2,-0.2 2,-0.2 2,-0.2 2,-0.2 2,-0.3 2,-0.3 2,-0.2 2,-0.3 2,-0.3 2,-0.3 2,-0.3 2,-0.3 2,-0.4 2,-0.3 2,-0.4 2,-0.4 2,-0.4 2,-0.4 2,-0.4 2,-0.4 2,-0.4 2,-0.5 2,-0.4 2,-0.4 2,-0.5 2,-0.4 2,-0.4 2,-0.5 2,-0.4 2,-0.4 2,-0.4 2,-0.5 2,-0.4 2,-0.5 2,-0.4 2,-0.5 2,-0.4 2,-0.5 2,-0.4 2,-0.5 2,-0.5 2,-0.4 2,-0.5 2,-0.4 2,-0.5 2,-0.4 2,-0.4 2,-0.5 2,-0.4 2,-0.4 2,-0.4 2,-0.4 2,-0.4 2,-0.5 2,-0.4 2,-0.4 2,-0.4 2,-0.4 2,-0.3 2,-0.4 2,-0.4 2,-0.4 2,-0.4 2,-0.4 2,-0.4 2,-0.4 2,-0.3 2,-0.4 2,-0.3 2,-0.4 2,-0.3 2,-0.4 2,-0.3 2,-0.3 2,-0.3 2,-0.3 2,-0.3 2,-0.2 2,-0.3 2,-0.2 2,-0.3 2,-0.2 2,-0.3 2,-0.2 2,-0.2 2,-0.3 2,-0.2 2,-0.2 2,-0.2 2,-0.2 2,-0.2 2,-0.2 2,-0.2 2,-0.2 2,-0.2 2,-0.1 2,-0.2 2,-0.2 2,-0.1 2,-0.2 2,-0.1 2,-0.2 2,-0.1 2,-0.1 2,-0.2 2,-0.1 2,-0.1 2,-0.1 2,-0.2 2,-0.1 2,-0.1 2,-0.1 2,-0.1 2,-0.1 2,-0.1 2,-0.1 2,-0.1 2,-0.1 2,-0.1 2,-0.1 2,-0.1 2,-0.1 2,0 2,-0.1 2,-0.1 2,-0.1 2,0 2,-0.1 2,-0.1 2,0 2,-0.1 2,-0.1 2,0 2,-0.1 2,-0.1 2,0 2,-0.1 2,0 2,-0.1 2,0 2,-0.1 2,0 2,-0.1 2,0 2,-0.1 2,0 2,-0.1 2,0 2,-0.1 2,0 2,-0.1 2,0 2,-0.1 2,0 2,-0.1 2,0 2,-0.1 2,0 2,0 2,-0.1 2,0 2,-0.1 2,0 2,-0.1 2,0 2,0 2,-0.1 2,0 2,-0.1 2,0 2,-0.1 2,0 2,-0.1 2,0 2,-0.1 2,0 2,-0.1 2,0 2,-0.1 2,0 2,-0.1 2,0 2,-0.1 2,0 2,-0.1 2,0 2,-0.1 2,0 2,-0.1 2,0 2,-0.1 2,0 2,-0.1 2,-0.1 2,0 2,-0.1 2,0 2,-0.1 2,0 2,-0.1 2,0 2,-0.1 2,0 2,-0.1 2,0 2,-0.1 2,0 2,-0.1 2,0 2,-0.1 2,0 2,-0.1 2,0 2,-0.1 2,0 2,-0.1 2,0 2,-0.1 2,0 2,-0.1 2,0 2,-0.1 2,0 2,0 2,-0.1 2,0 2,-0.1 2,0 2,0 2,-0.1 2,0 2,0 2,-0.1 2,0 2,0 2,-0.1 2,0 2,0 2,-0.1 2,0 2,0 2,-0.1 2,0 2,0 2,-0.1 2,0 2,0 2,0 2,-0.1 2,0 2,0 2,0 2,-0.1 2,0 2,0 2,-0.1 2,0 2,0 2,0 2,-0.1 2,0 2,0 2,0 2,-0.1 2,0 2,0 2,-0.1 2,0 2,0 2,0 2,-0.1 2,0 2,0 2,-0.1 2,0 2,0 2,-0.1 2,0 2,0 2,-0.1 2,0 2,-0.1 2,0 2,0 2,-0.1 2,0 2,-0.1 2,0 2,0 2,-0.1 2,0 2,-0.1 2,0 2,-0.1 2,0 2,0 2,-0.1 2,0 2,-0.1 2,0 2,-0.1 2,0 2,-0.1 2,0 2,0 2,-0.1 2,0 2,-0.1 2,0 2,-0.1 2,0 2,-0.1 2,0 2,0 2,-0.1 2,0 2,0 2,-0.1 2,0 2,-0.1 2,0 2,0 2,-0.1 2,0 2,0 2,0 2,-0.1 2,0 2,0 2,-0.1 2,0 2,0 2,0 2,-0.1 2,0 2,0 2,0 2,-0.1 2,0 2,0 2,0 2,-0.1 2,0 2,0 2,0 2,0 2,-0.1 2,0 2,0 2,0 2,0 2,0 2,0.1 2,0.1 2,0.1 2,0.2 2,0.2 2,0.2 2,0.3 2,0.3 2,0.3 2,0.4 2,0.4 2,0.4 2,0.5 2,0.5 2,0.5 2,0.5 2,0.5 2,0.5 2,0.5 2,0.5 2,0.6 2,0.4 2,0.5 2,0.5 2,0.4 2,0.4 2,0.3 2,0.3 2,0.2 2,0.2 2,0.1 2,0 2,0 2,0 2,-0.1 2,0 2,-0.2 2,-0.1 2,-0.2 2,-0.2 2,-0.3 2,-0.3 2,-0.5 2,-0.5 2,-0.6 2,-0.6 2,-0.7 2,-0.8 2,-0.7 2,-0.8 2,-0.8 2,-0.8 2,-0.9 2,-0.8 2,-0.8 2,-0.9 2,-0.8 2,-0.9 2,-0.9 2,-0.9 2,-0.9 2,-1 2,-0.9 2,-1 2,-1 2,-1 2,-1 2,-1 2,-1 2,-1.1 2,-1 2,-1.1 2,-1.1 2,-1.1 2,-1.2 2,-1.2 2,-1.2 2,-1.4 2,-1.4 2,-1.5 2,-1.5 2,-1.6 2,-1.7 2,-1.8 2,-1.8 2,-1.8 2,-1.9 2,-1.9 2,-1.9 2,-2 2,-2.1 2,-2.1 2,-2.1 2,-2.1 2,-2.2 2,-2.3 2,-2.3 2,-2.3 2,-2.5 2,-2.5 2,-2.5 2,-2.6 2,-2.7 2,-2.8 2,-2.8 2,-2.9 2,-2.9 2,-3 2,-3 2,-3 2,-3.1 2,-3.2 2,-3.2 2,-3.2 2,-3.3 2,-3.4 2,-3.5 2,-3.5 2,-3.5 2,-3.7 2,-3.6 2,-3.7 2,-3.8 2,-3.8 2,-3.7 2,-3.8 2,-3.7 2,-3.7 2,-3.5 2,-3.4 2,-3.3 2,-3 2,-3 2,-2.7 2,-2.6 2,-2.5 2,-2.4 2,-2.3 2,-2.2 2,-2.1 2,-1.9 2,-1.7 2,-1.6 2,-1.3 2,-1 2,-0.7 2,-0.4 2,-0.1 2,0.1 2,0.4 2,0.7 2,1 2,1.4 2,1.8 2,2.2 2,2.8 2,3.4 2,4.1 2,4.7 2,5.4 2,6.2 2,6.8 2,7.3 2,7.8 2,8.1 2,8.3 2,8.3 2,8.3 2,8 2,7.8 2,7.4 2,6.9 2,6.6 2,6.1 2,5.7 2,5.3 2,5.1 2,4.7 2,4.5 2,4.2 2,3.9 2,3.7 2,3.4 2,3 2,2.8 2,2.5 2,2.3 2,1.9 2,1.7 2,1.5 2,1.2 2,1 2,0.9 2,0.7 2,0.7 2,0.5 2,0.5 2,0.4 2,0.4 2,0.3 2,0.3 2,0.3 2,0.2 2,0.2 2,0.2 2,0.1 2,0.1 2,0.1 2,0 2,0.1 2,0 2,0 2,0 2,0 2,0 2,0 2,0 2,0 2,0 2,0 2,0 2,0 2,0 2,0 2,0 2,0 2,0 2,0 2,0 2,0 2,0 2,0 2,-0.1 2,0 2,0 2,0 2,0 2,0 2,0 2,0 2,0 2,0 2,0 2,0 2,0 2,0 2,0 2,0 2,0 2,0 2,0 2,0 2,0 2,-0.1 2,0 2,0 2,0 2,0 2,0 2,0 2,0 2,-0.1 2,0 2,0 2,0 2,0 2,0 2,0 2,-0.1 2,0 2,0 2,0 2,0 2,0 2,-0.1 2,0 2,0 2,0 2,0 2,0 2,-0.1 2,0 2,0 2,0 2,0 2,-0.1 2,0 2,0 2,0 2,0 2,-0.1 2,0 2,0 2,0 2,-0.1 2,0 2,0 2,0 1.3,0" fill="none" stroke="#008000" stroke-width="5.8" stroke-linejoin="round" stroke-linecap="butt"/>
<path d="M180.5,2132.5l2,0 2,0 2,-0.1 2,0 2,0 2,0 2,0 2,0 2,-0.1 2,0 2,0 2,0 2,0 2,-0.1 2,0 2,0 2,0 2,0 2,-0.1 2,0 2,0 2,0 2,0 2,-0.1 2,0 2,0 2,0 2,0 2,-0.1 2,0 2,0 2,0 2,-0.1 2,0 2,0 2,0 2,-0.1 2,0 2,0 2,0 2,0 2,-0.1 2,0 2,0 2,0 2,-0.1 2,0 2,0 2,0 2,-0.1 2,0 2,0 2,0 2,-0.1 2,0 2,0 2,0 2,-0.1 2,0 2,0 2,0 2,0 2,-0.1 2,0 2,0 2,0 2,-0.1 2,0 2,0 2,0 2,-0.1 2,0 2,0 2,0 2,-0.1 2,0 2,0 2,-0.1 2,0 2,0 2,0 2,-0.1 2,0 2,0 2,-0.1 2,0 2,-0.1 2,0 2,0 2,-0.1 2,0 2,-0.1 2,0 2,0 2,-0.1 2,0 2,-0.1 2,0 2,-0.1 2,-0.1 2,0 2,-0.1 2,-0.1 2,0 2,-0.1 2,-0.1 2,-0.1 2,-0.1 2,-0.1 2,-0.1 2,-0.1 2,-0.1 2,-0.1 2,-0.1 2,-0.1 2,-0.2 2,-0.1 2,-0.1 2,-0.2 2,-0.1 2,-0.2 2,-0.1 2,-0.2 2,-0.2 2,-0.2 2,-0.2 2,-0.2 2,-0.2 2,-0.3 2,-0.3 2,-0.3 2,-0.4 2,-0.4 2,-0.5 2,-0.4 2,-0.5 2,-0.5 2,-0.5 2,-0.5 2,-0.5 2,-0.5 2,-0.6 2,-0.5 2,-0.5 2,-0.6 2,-0.6 2,-0.5 2,-0.6 2,-0.6 2,-0.6 2,-0.6 2,-0.7 2,-0.7 2,-0.6 2,-0.8 2,-0.7 2,-0.7 2,-0.8 2,-0.8 2,-0.7 2,-0.8 2,-0.8 2,-0.7 2,-0.7 2,-0.7 2,-0.6 2,-0.6 2,-0.6 2,-0.5 2,-0.4 2,-0.4 2,-0.2 2,-0.2 2,-0.2 2,0 2,0 2,0 2,0.1 2,0.2 2,0.2 2,0.3 2,0.2 2,0.4 2,0.3 2,0.4 2,0.3 2,0.4 2,0.4 2,0.4 2,0.3 2,0.4 2,0.3 2,0.4 2,0.3 2,0.3 2,0.2 2,0.3 2,0.2 2,0.2 2,0.1 2,0.1 2,0.1 2,0.1 2,0 2,0 2,0 2,0 2,0 2,0 2,0 2,0 2,0 2,0 2,0 2,0 2,0 2,0 2,0 2,0 2,0 2,0 2,0 2,0 2,0 2,0 2,0 2,0 2,0 2,0 2,0 2,0 2,0 2,0 2,0 2,0 2,0 2,0 2,0 2,0 2,0 2,0 2,0 2,0 2,0 2,0 2,0 2,0 2,0 2,0 2,0 2,0 2,0 2,0 2,0 2,0 2,0 2,0 2,0 2,0 2,0 2,0 2,0 2,0 2,0 2,0 2,0 2,0 2,0 2,0 2,0 2,0 2,0 2,-0.1 2,0 2,0 2,0 2,0 2,0 2,0 2,0 2,0 2,0 2,-0.1 2,0 2,0 2,0 2,0 2,0 2,0 2,0 2,-0.1 2,0 2,0 2,0 2,0 2,0 2,0 2,-0.1 2,0 2,0 2,0 2,0 2,0 2,-0.1 2,0 2,0 2,0 2,0 2,0 2,-0.1 2,0 2,0 2,0 2,0 2,0 2,-0.1 2,0 2,0 2,0 2,0 2,0 2,0 2,-0.1 2,0 2,0 2,0 2,0 2,0 2,0 2,0 2,-0.1 2,0 2,0 2,0 2,0 2,0 2,0 2,0 2,0 2,0 2,-0.1 2,0 2,0 2,0 2,0 2,0 2,0 2,0 2,0 2,0 2,0 2,0 2,0 2,0 2,0 2,0 2,0 2,0 2,0 2,0 2,0 2,0 2,0 2,0 2,0 2,0.1 2,0 2,0 2,0 2,0 2,0 2,0 2,0 2,0 2,0 2,0.1 2,0 2,0 2,0 2,0 2,0 2,0 2,0 2,0.1 2,0 2,0 2,0 2,0 2,0 2,0 2,0.1 2,0 2,0 2,0 2,0 2,0 2,0.1 2,0 2,0 2,0 2,0 2,0 2,0.1 2,0 2,0 2,0 2,0 2,0.1 2,0 2,0 2,0 2,0.1 2,0 2,0 2,0 2,0.1 2,0 2,0 2,0.1 2,0 2,0 2,0.1 2,0 2,0 2,0.1 2,0 2,0 2,0.1 2,0 2,0 2,0.1 2,0 2,0 2,0.1 2,0 2,0 2,0.1 2,0 2,0 2,0.1 2,0 2,0 2,0.1 2,0 2,0 2,0.1 2,0 2,0 2,0.1 2,0 2,0 2,0.1 2,0 2,0 2,0 2,0.1 2,0 2,0 2,0 2,0.1 2,0 2,0 2,0 2,0.1 2,0 2,0 2,0 2,0.1 2,0 2,0 2,0.1 2,0 2,0.1 2,0 2,0 2,0.1 2,0 2,0.1 2,0.1 2,0.1 2,0.1 2,0.1 2,0.2 2,0.2 2,0.2 2,0.2 2,0.3 2,0.3 2,0.3 2,0.4 2,0.3 2,0.4 2,0.3 2,0.4 2,0.4 2,0.4 2,0.4 2,0.3 2,0.4 2,0.4 2,0.4 2,0.4 2,0.4 2,0.4 2,0.4 2,0.4 2,0.5 2,0.4 2,0.5 2,0.4 2,0.5 2,0.5 2,0.4 2,0.5 2,0.5 2,0.5 2,0.5 2,0.5 2,0.5 2,0.5 2,0.5 2,0.5 2,0.4 2,0.5 2,0.5 2,0.5 2,0.5 2,0.5 2,0.5 2,0.5 2,0.5 2,0.5 2,0.4 2,0.6 2,0.5 2,0.5 2,0.5 2,0.5 2,0.5 2,0.5 2,0.5 2,0.5 2,0.5 2,0.5 2,0.5 2,0.5 2,0.5 2,0.5 2,0.5 2,0.5 2,0.5 2,0.6 2,0.5 2,0.5 2,0.5 2,0.6 2,0.5 2,0.6 2,0.5 2,0.5 2,0.6 2,0.5 2,0.5 2,0.6 2,0.5 2,0.5 2,0.5 2,0.5 2,0.4 2,0.5 2,0.4 2,0.5 2,0.4 2,0.4 2,0.4 2,0.3 2,0.4 2,0.4 2,0.3 2,0.3 2,0.4 2,0.3 2,0.3 2,0.3 2,0.3 2,0.3 2,0.3 2,0.3 2,0.3 2,0.2 2,0.3 2,0.3 2,0.3 2,0.2 2,0.3 2,0.3 2,0.3 2,0.2 2,0.3 2,0.3 2,0.2 2,0.3 2,0.3 2,0.3 2,0.2 2,0.3 2,0.3 2,0.2 2,0.3 2,0.2 2,0.3 2,0.2 2,0.3 2,0.2 2,0.3 2,0.2 2,0.2 2,0.2 2,0.2 2,0.3 2,0.2 2,0.2 2,0.2 2,0.2 2,0.2 2,0.3 2,0.2 2,0.1 2,0.2 2,0.2 2,0.1 2,0.1 2,0.1 2,0 2,0.1 2,0 2,-0.1 2,0 2,-0.1 2,-0.1 2,-0.1 2,-0.1 2,-0.1 2,-0.1 2,-0.2 2,-0.1 2,-0.2 2,-0.2 2,-0.2 2,-0.1 2,-0.2 2,-0.2 2,-0.2 2,-0.2 2,-0.2 2,-0.3 2,-0.2 2,-0.2 2,-0.2 2,-0.2 2,-0.2 2,-0.3 2,-0.2 2,-0.3 2,-0.2 2,-0.3 2,-0.3 2,-0.3 2,-0.3 2,-0.3 2,-0.3 2,-0.4 2,-0.3 2,-0.4 2,-0.3 2,-0.4 2,-0.3 2,-0.4 2,-0.4 2,-0.4 2,-0.4 2,-0.4 2,-0.4 2,-0.4 2,-0.4 2,-0.5 2,-0.4 2,-0.5 2,-0.4 2,-0.5 2,-0.5 2,-0.6 2,-0.5 2,-0.5 2,-0.6 2,-0.6 2,-0.5 2,-0.6 2,-0.6 2,-0.6 2,-0.6 2,-0.5 2,-0.6 2,-0.6 2,-0.6 2,-0.5 2,-0.6 2,-0.5 2,-0.6 2,-0.5 2,-0.6 2,-0.5 2,-0.5 2,-0.6 2,-0.5 2,-0.5 2,-0.5 2,-0.6 2,-0.5 2,-0.5 2,-0.5 2,-0.6 2,-0.5 2,-0.5 2,-0.5 2,-0.5 2,-0.6 2,-0.5 2,-0.5 2,-0.5 2,-0.5 2,-0.5 2,-0.5 2,-0.5 2,-0.5 2,-0.5 2,-0.6 2,-0.5 2,-0.5 2,-0.5 2,-0.5 2,-0.5 2,-0.6 2,-0.5 2,-0.5 2,-0.5 2,-0.5 2,-0.5 2,-0.5 2,-0.5 2,-0.5 2,-0.5 2,-0.4 2,-0.5 2,-0.4 2,-0.4 2,-0.4 2,-0.4 2,-0.4 2,-0.3 2,-0.4 2,-0.3 2,-0.3 2,-0.3 2,-0.3 2,-0.3 2,-0.3 2,-0.3 2,-0.4 2,-0.4 2,-0.4 2,-0.4 2,-0.5 2,-0.5 2,-0.5 2,-0.5 2,-0.6 2,-0.5 2,-0.6 2,-0.5 2,-0.5 2,-0.5 2,-0.5 2,-0.5 2,-0.5 2,-0.4 2,-0.5 2,-0.4 2,-0.4 2,-0.5 2,-0.4 2,-0.4 2,-0.4 2,-0.4 2,-0.4 2,-0.4 2,-0.3 2,-0.4 2,-0.4 2,-0.4 2,-0.4 2,-0.4 2,-0.4 2,-0.3 2,-0.4 2,-0.4 2,-0.4 2,-0.4 2,-0.4 2,-0.4 2,-0.4 2,-0.4 2,-0.4 2,-0.4 2,-0.4 2,-0.4 2,-0.4 2,-0.4 2,-0.4 2,-0.4 2,-0.4 2,-0.5 2,-0.4 2,-0.4 2,-0.5 2,-0.5 2,-0.4 2,-0.5 2,-0.5 2,-0.5 2,-0.5 2,-0.6 2,-0.5 2,-0.6 2,-0.6 2,-0.6 2,-0.6 2,-0.6 2,-0.7 2,-0.6 2,-0.7 2,-0.7 2,-0.7 2,-0.8 2,-0.8 2,-0.7 2,-0.9 2,-0.8 2,-0.8 2,-0.9 2,-0.9 2,-1 2,-1 2,-1 2,-1.1 2,-1.2 2,-1.3 2,-1.3 2,-1.4 2,-1.5 2,-1.6 2,-1.7 2,-1.8 2,-1.9 2,-2 2,-2.1 2,-2.2 2,-2.4 2,-2.5 2,-2.7 2,-2.9 2,-3.1 2,-3.3 2,-3.5 2,-3.6 2,-3.8 2,-4 2,-4.2 2,-4.2 2,-4.4 2,-4.4 2,-4.5 2,-4.4 2,-4.5 2,-4.4 2,-4.4 2,-4.2 2,-4.2 2,-4 2,-4 2,-3.7 2,-3.7 2,-3.4 2,-3.3 2,-3.1 2,-2.9 2,-2.7 2,-2.5 2,-2.2 2,-2 2,-1.8 2,-1.6 2,-1.3 2,-1.2 2,-0.9 2,-0.7 2,-0.6 2,-0.3 2,-0.2 2,0 2,0.2 2,0.4 2,0.6 2,0.8 2,1 2,1.2 2,1.5 2,1.8 2,2 2,2.3 2,2.6 2,2.9 2,3.1 2,3.4 2,3.7 2,3.8 2,4.2 2,4.3 2,4.6 2,4.7 2,4.9 2,5.1 2,5.2 2,5.3 2,5.4 2,5.4 2,5.6 2,5.5 2,5.6 2,5.6 2,5.5 2,5.6 2,5.4 2,5.4 2,5.2 2,4.9 2,4.8 2,4.5 2,4.2 2,3.8 2,3.5 2,3.1 2,2.8 2,2.5 2,2.2 2,1.8 2,1.6 2,1.4 2,1.1 2,1 2,0.7 2,0.7 2,0.5 2,0.4 2,0.3 2,0.2 2,0.2 2,0.2 2,0.1 2,0.1 2,0.1 2,0 2,0.1 2,0 2,0 2,0.1 2,0 2,0 2,0 2,0.1 2,0 2,0 2,0 2,0 2,0 2,0 2,0 2,0 2,0 2,0 2,0 2,0 2,0 2,-0.1 2,0 2,0 2,0 2,0 2,0 2,0 2,0 2,-0.1 2,0 2,0 2,0 2,0 2,0 2,-0.1 2,0 2,0 2,0 2,0 2,0 2,0 2,-0.1 2,0 2,0 2,0 2,0 2,0 2,0 2,0 2,-0.1 2,0 2,0 2,0 2,0 2,0 2,0 2,0 2,0 2,0 2,0 2,0 2,0 2,0 2,0 2,0 2,0 2,0 2,0 2,0 2,0 2,0 2,0 2,0.1 2,0 2,0 2,0 2,0 2,0 2,0 2,0 2,0 2,0 2,0 2,0.1 2,0 2,0 2,0 2,0 2,0 2,0 2,0.1 2,0 2,0 2,0 2,0 2,0 2,0.1 2,0 2,0 2,0 2,0 2,0 0.5,0.1" fill="none" stroke="#008000" stroke-width="5.8" stroke-linejoin="round" stroke-linecap="butt"/>
<path d="M178.2,659.5l2,-0.1 2,0 2,0 2,0 2,-0.1 2,0 2,0 2,-0.1 2,0 2,0 2,-0.1 2,0 2,0 2,-0.1 2,0 2,0 2,-0.1 2,0 2,0 2,0 2,-0.1 2,0 2,0 2,-0.1 2,0 2,0 2,-0.1 2,0 2,0 2,-0.1 2,0 2,0 2,-0.1 2,0 2,0 2,-0.1 2,0 2,0 2,-0.1 2,0 2,0 2,-0.1 2,0 2,0 2,-0.1 2,0 2,0 2,-0.1 2,0 2,0 2,-0.1 2,0 2,0 2,-0.1 2,0 2,0 2,0 2,-0.1 2,0 2,0 2,-0.1 2,0 2,0 2,-0.1 2,0 2,0 2,0 2,-0.1 2,0 2,0 2,-0.1 2,0 2,0 2,-0.1 2,0 2,0 2,-0.1 2,0 2,0 2,-0.1 2,0 2,0 2,-0.1 2,0 2,-0.1 2,0 2,0 2,-0.1 2,0 2,-0.1 2,0 2,-0.1 2,0 2,-0.1 2,0 2,-0.1 2,0 2,-0.1 2,0 2,-0.1 2,0 2,-0.1 2,-0.1 2,0 2,-0.1 2,-0.1 2,-0.1 2,0 2,-0.1 2,-0.1 2,-0.1 2,-0.1 2,-0.1 2,-0.1 2,0 2,-0.1 2,-0.1 2,-0.1 2,-0.1 2,-0.1 2,-0.1 2,-0.1 2,-0.1 2,-0.1 2,-0.1 2,-0.1 2,-0.1 2,-0.1 2,-0.1 2,-0.1 2,-0.1 2,-0.2 2,-0.1 2,-0.1 2,-0.1 2,-0.1 2,-0.1 2,-0.1 2,-0.1 2,-0.1 2,-0.1 2,-0.1 2,-0.1 2,-0.1 2,-0.2 2,-0.1 2,-0.1 2,-0.2 2,-0.2 2,-0.1 2,-0.3 2,-0.2 2,-0.4 2,-0.3 2,-0.4 2,-0.5 2,-0.5 2,-0.5 2,-0.7 2,-0.6 2,-0.8 2,-0.8 2,-0.9 2,-0.9 2,-1 2,-1.1 2,-1.1 2,-1.2 2,-1.3 2,-1.3 2,-1.4 2,-1.5 2,-1.5 2,-1.6 2,-1.7 2,-1.7 2,-1.9 2,-2 2,-2 2,-2.1 2,-2.2 2,-2.1 2,-2.2 2,-2.1 2,-2.1 2,-2 2,-1.9 2,-1.6 2,-1.4 2,-1.2 2,-0.9 2,-0.6 2,-0.3 2,-0.1 2,0.3 2,0.6 2,1 2,1.3 2,1.6 2,1.9 2,2.1 2,2.4 2,2.5 2,2.8 2,2.8 2,2.8 2,2.7 2,2.6 2,2.4 2,2.1 2,1.9 2,1.7 2,1.4 2,1.2 2,0.9 2,0.7 2,0.6 2,0.5 2,0.4 2,0.4 2,0.2 2,0.3 2,0.2 2,0.2 2,0.1 2,0.2 2,0.2 2,0.1 2,0.2 2,0.2 2,0.3 2,0.3 2,0.3 2,0.3 2,0.4 2,0.5 2,0.5 2,0.5 2,0.6 2,0.5 2,0.6 2,0.5 2,0.6 2,0.5 2,0.5 2,0.5 2,0.5 2,0.4 2,0.4 2,0.4 2,0.4 2,0.4 2,0.4 2,0.3 2,0.3 2,0.3 2,0.3 2,0.3 2,0.2 2,0.2 2,0.2 2,0.2 2,0.2 2,0.2 2,0.1 2,0.2 2,0.1 2,0.2 2,0.1 2,0.2 2,0.1 2,0.1 2,0.1 2,0.2 2,0.1 2,0.2 2,0.1 2,0.2 2,0.1 2,0.2 2,0.2 2,0.1 2,0.2 2,0.2 2,0.3 2,0.2 2,0.2 2,0.3 2,0.2 2,0.3 2,0.3 2,0.3 2,0.3 2,0.3 2,0.3 2,0.3 2,0.3 2,0.3 2,0.3 2,0.4 2,0.3 2,0.3 2,0.4 2,0.3 2,0.3 2,0.4 2,0.3 2,0.4 2,0.3 2,0.4 2,0.4 2,0.3 2,0.4 2,0.4 2,0.4 2,0.4 2,0.4 2,0.4 2,0.4 2,0.4 2,0.4 2,0.5 2,0.4 2,0.4 2,0.4 2,0.4 2,0.4 2,0.5 2,0.4 2,0.4 2,0.4 2,0.4 2,0.4 2,0.3 2,0.4 2,0.4 2,0.4 2,0.4 2,0.5 2,0.4 2,0.4 2,0.4 2,0.4 2,0.4 2,0.4 2,0.4 2,0.4 2,0.4 2,0.3 2,0.4 2,0.3 2,0.4 2,0.3 2,0.3 2,0.3 2,0.2 2,0.3 2,0.2 2,0.2 2,0.2 2,0.2 2,0.2 2,0.2 2,0.2 2,0.2 2,0.2 2,0.2 2,0.1 2,0.2 2,0.1 2,0.1 2,0.1 2,0.1 2,0 2,0.1 2,0 2,0 2,0 2,0 2,0 2,0 2,-0.1 2,0 2,0 2,0 2,0 2,-0.1 2,0 2,0 2,-0.1 2,0 2,0 2,-0.1 2,0 2,-0.1 2,-0.1 2,-0.1 2,-0.1 2,-0.2 2,-0.2 2,-0.3 2,-0.2 2,-0.4 2,-0.3 2,-0.4 2,-0.4 2,-0.4 2,-0.5 2,-0.4 2,-0.4 2,-0.5 2,-0.4 2,-0.5 2,-0.4 2,-0.4 2,-0.4 2,-0.4 2,-0.5 2,-0.4 2,-0.4 2,-0.4 2,-0.4 2,-0.4 2,-0.5 2,-0.4 2,-0.5 2,-0.4 2,-0.5 2,-0.4 2,-0.5 2,-0.4 2,-0.5 2,-0.5 2,-0.4 2,-0.5 2,-0.5 2,-0.4 2,-0.5 2,-0.5 2,-0.5 2,-0.6 2,-0.5 2,-0.5 2,-0.6 2,-0.5 2,-0.6 2,-0.6 2,-0.5 2,-0.6 2,-0.5 2,-0.5 2,-0.5 2,-0.4 2,-0.5 2,-0.4 2,-0.4 2,-0.4 2,-0.4 2,-0.3 2,-0.4 2,-0.3 2,-0.3 2,-0.3 2,-0.3 2,-0.3 2,-0.3 2,-0.3 2,-0.3 2,-0.3 2,-0.3 2,-0.2 2,-0.3 2,-0.2 2,-0.3 2,-0.2 2,-0.2 2,-0.3 2,-0.2 2,-0.2 2,-0.2 2,-0.2 2,-0.2 2,-0.2 2,-0.2 2,-0.2 2,-0.2 2,-0.2 2,-0.1 2,-0.2 2,-0.2 2,-0.2 2,-0.1 2,-0.2 2,-0.1 2,-0.2 2,-0.2 2,-0.1 2,-0.1 2,-0.2 2,-0.1 2,-0.2 2,-0.1 2,-0.1 2,-0.2 2,-0.1 2,-0.1 2,-0.1 2,-0.2 2,-0.1 2,-0.1 2,-0.1 2,-0.1 2,-0.1 2,-0.1 2,-0.1 2,-0.2 2,-0.1 2,-0.1 2,-0.1 2,-0.1 2,-0.1 2,0 2,-0.1 2,-0.1 2,-0.1 2,-0.1 2,-0.1 2,-0.1 2,-0.1 2,0 2,-0.1 2,-0.1 2,-0.1 2,0 2,-0.1 2,-0.1 2,0 2,-0.1 2,-0.1 2,0 2,-0.1 2,0 2,-0.1 2,0 2,-0.1 2,-0.1 2,0 2,-0.1 2,0 2,-0.1 2,0 2,-0.1 2,0 2,-0.1 2,-0.1 2,0 2,-0.1 2,0 2,-0.1 2,0 2,-0.1 2,0 2,-0.1 2,0 2,-0.1 2,0 2,-0.1 2,0 2,-0.1 2,0 2,-0.1 2,0 2,-0.1 2,0 2,-0.1 2,0 2,-0.1 2,0 2,-0.1 2,0 2,-0.1 2,0 2,-0.1 2,0 2,-0.1 2,0 2,-0.1 2,0 2,-0.1 2,0 2,-0.1 2,0 2,-0.1 2,0 2,-0.1 2,0 2,-0.1 2,0 2,-0.1 2,0 2,-0.1 2,0 2,-0.1 2,0 2,-0.1 2,0 2,-0.1 2,0 2,-0.1 2,0 2,-0.1 2,0 2,-0.1 2,0 2,-0.1 2,0 2,-0.1 2,0 2,-0.1 2,0 2,-0.1 2,-0.1 2,0 2,-0.1 2,0 2,-0.1 2,0 2,-0.1 2,0 2,-0.1 2,0 2,-0.1 2,0 2,-0.1 2,0 2,-0.1 2,0 2,-0.1 2,0 2,-0.1 2,0 2,-0.1 2,0 2,-0.1 2,0 2,-0.1 2,0 2,-0.1 2,0 2,-0.1 2,0 2,0 2,-0.1 2,0 2,-0.1 2,0 2,0 2,-0.1 2,0 2,-0.1 2,0 2,0 2,-0.1 2,0 2,0 2,-0.1 2,0 2,0 2,-0.1 2,0 2,0 2,-0.1 2,0 2,0 2,-0.1 2,0 2,0 2,0 2,-0.1 2,0 2,0 2,-0.1 2,0 2,0 2,-0.1 2,0 2,0 2,0 2,-0.1 2,0 2,0 2,0 2,-0.1 2,0 2,0 2,-0.1 2,0 2,0 2,0 2,-0.1 2,0 2,0 2,0 2,-0.1 2,0 2,0 2,0 2,-0.1 2,0 2,0 2,0 2,-0.1 2,0 2,0 2,0 2,-0.1 2,0 2,0 2,0 2,-0.1 2,0 2,0 2,0 2,-0.1 2,0 2,0 2,-0.1 2,0 2,0 2,0 2,-0.1 2,0 2,0 2,0 2,0 2,-0.1 2,0 2,0 2,0 2,0 2,-0.1 2,0 2,0 2,0 2,0 2,0 2,0 2,-0.1 2,0 2,0 2,0 2,0 2,0 2,0 2,0 2,0 2,0 2,0 2,0 2,0 2,0 2,0 2,0 2,0 2,0 2,0.1 2,0 2,0 2,0 2,0 2,0 2,0.1 2,0 2,0 2,0 2,0.1 2,0 2,0 2,0 2,0 2,0.1 2,0 2,0.1 2,0.1 2,0.2 2,0.2 2,0.2 2,0.3 2,0.3 2,0.3 2,0.4 2,0.4 2,0.5 2,0.4 2,0.5 2,0.5 2,0.6 2,0.5 2,0.6 2,0.6 2,0.5 2,0.7 2,0.6 2,0.6 2,0.5 2,0.6 2,0.5 2,0.4 2,0.3 2,0.3 2,0.2 2,0.1 2,0 2,-0.1 2,-0.1 2,-0.1 2,-0.2 2,-0.2 2,-0.2 2,-0.3 2,-0.3 2,-0.4 2,-0.4 2,-0.5 2,-0.6 2,-0.6 2,-0.6 2,-0.7 2,-0.7 2,-0.7 2,-0.8 2,-0.7 2,-0.8 2,-0.8 2,-0.7 2,-0.9 2,-0.8 2,-0.8 2,-0.9 2,-0.9 2,-0.9 2,-1 2,-0.9 2,-1 2,-1 2,-1.1 2,-1 2,-1.1 2,-1.2 2,-1.2 2,-1.3 2,-1.3 2,-1.4 2,-1.4 2,-1.5 2,-1.5 2,-1.5 2,-1.6 2,-1.6 2,-1.7 2,-1.6 2,-1.7 2,-1.6 2,-1.8 2,-1.7 2,-1.8 2,-1.9 2,-1.9 2,-1.9 2,-2 2,-2 2,-2.1 2,-2.1 2,-2.2 2,-2.2 2,-2.3 2,-2.3 2,-2.3 2,-2.5 2,-2.4 2,-2.5 2,-2.6 2,-2.6 2,-2.6 2,-2.7 2,-2.6 2,-2.7 2,-2.6 2,-2.6 2,-2.6 2,-2.7 2,-2.6 2,-2.7 2,-2.8 2,-3 2,-3 2,-3.2 2,-3.4 2,-3.5 2,-3.8 2,-3.8 2,-4 2,-3.9 2,-3.8 2,-3.7 2,-3.6 2,-3.3 2,-3.2 2,-3 2,-2.8 2,-2.7 2,-2.8 2,-2.8 2,-3 2,-3.1 2,-3.2 2,-3.2 2,-3.1 2,-2.8 2,-2.5 2,-1.8 2,-1.2 2,-0.3 2,0.6 2,1.7 2,2.7 2,3.6 2,4.4 2,5.2 2,5.7 2,6 2,6.1 2,6.1 2,5.9 2,5.5 2,5 2,4.7 2,4.1 2,3.9 2,3.5 2,3.2 2,3.1 2,3.1 2,3.2 2,3.2 2,3.4 2,3.5 2,3.7 2,3.7 2,3.9 2,4 2,4 2,4.1 2,4 2,4.1 2,3.9 2,3.9 2,3.7 2,3.7 2,3.5 2,3.4 2,3.2 2,3.1 2,2.9 2,2.8 2,2.6 2,2.5 2,2.3 2,2 2,2 2,1.7 2,1.5 2,1.4 2,1.3 2,1.1 2,1 2,0.8 2,0.7 2,0.6 2,0.6 2,0.4 2,0.4 2,0.3 2,0.3 2,0.2 2,0.2 2,0.2 2,0.1 2,0.2 2,0.1 2,0.1 2,0.1 2,0 2,0.1 2,0 2,0 2,0 2,0 2,0 2,0 2,0 2,0 2,-0.1 2,0 2,0 2,0 2,0 2,0 2,-0.1 2,0 2,0 2,0 2,0 2,0 2,-0.1 2,0 2,0 2,0 2,-0.1 2,0 2,0 2,0 2,0 2,-0.1 2,0 2,0 2,0 2,0 2,-0.1 2,0 2,0 2,0 2,0 2,-0.1 2,0 2,0 2,0 2,-0.1 2,0 2,0 2,0 2,-0.1 2,0 2,0 2,0 2,-0.1 2,0 2,0 2,0 2,-0.1 2,0 2,0 2,-0.1 2,0 2,0 2,0 2,-0.1 2,0 2,0 2,-0.1 2,0 2,0 2,0 2,-0.1 2,0 2,0 2,-0.1 2,0 2,0 2,-0.1 2,0 2,0 2,-0.1 2,0 2,0 2,-0.1 2,0 2,0 1.3,-0.1" fill="none" stroke="#ff0080" stroke-width="5.8" stroke-linejoin="round" stroke-linecap="butt"/>
<path d="M180.5,2025.0l2,0 2,0 2,0 2,0 2,0 2,0 2,0 2,0 2,0 2,0 2,0 2,0 2,0 2,0 2,0 2,0 2,0 2,0 2,0 2,0 2,0 2,0 2,0 2,0 2,0 2,0 2,0 2,0 2,0 2,0 2,0 2,0 2,0 2,0 2,0 2,0 2,0 2,0 2,0 2,0 2,-0.1 2,0 2,0 2,0 2,-0.1 2,0 2,0 2,-0.1 2,0 2,0 2,-0.1 2,0 2,-0.1 2,0 2,-0.1 2,0 2,-0.1 2,0 2,-0.1 2,-0.1 2,0 2,-0.1 2,0 2,-0.1 2,-0.1 2,0 2,-0.1 2,-0.1 2,0 2,-0.1 2,-0.1 2,0 2,-0.1 2,-0.1 2,0 2,-0.1 2,-0.1 2,0 2,-0.1 2,-0.1 2,0 2,-0.1 2,-0.1 2,0 2,-0.1 2,-0.1 2,0 2,-0.1 2,-0.1 2,0 2,-0.1 2,-0.1 2,-0.1 2,0 2,-0.1 2,-0.1 2,0 2,-0.1 2,-0.1 2,-0.1 2,-0.1 2,0 2,-0.1 2,-0.1 2,-0.1 2,-0.1 2,-0.1 2,-0.1 2,-0.1 2,-0.1 2,-0.1 2,-0.1 2,-0.1 2,-0.1 2,-0.1 2,-0.1 2,-0.2 2,-0.1 2,-0.1 2,-0.2 2,-0.1 2,-0.2 2,-0.1 2,-0.2 2,-0.2 2,-0.2 2,-0.2 2,-0.3 2,-0.2 2,-0.3 2,-0.3 2,-0.3 2,-0.3 2,-0.3 2,-0.3 2,-0.4 2,-0.3 2,-0.4 2,-0.4 2,-0.5 2,-0.4 2,-0.5 2,-0.5 2,-0.6 2,-0.5 2,-0.6 2,-0.7 2,-0.6 2,-0.7 2,-0.7 2,-0.7 2,-0.7 2,-0.7 2,-0.7 2,-0.8 2,-0.8 2,-0.7 2,-0.8 2,-0.7 2,-0.8 2,-0.7 2,-0.7 2,-0.7 2,-0.7 2,-0.7 2,-0.6 2,-0.5 2,-0.5 2,-0.5 2,-0.3 2,-0.3 2,-0.2 2,-0.2 2,-0.1 2,0 2,0 2,0 2,0.1 2,0 2,0.2 2,0.2 2,0.2 2,0.3 2,0.3 2,0.4 2,0.4 2,0.4 2,0.4 2,0.3 2,0.4 2,0.3 2,0.3 2,0.3 2,0.3 2,0.2 2,0.2 2,0.2 2,0.2 2,0.2 2,0.1 2,0.1 2,0 2,0.1 2,0 2,0 2,0 2,0 2,0 2,0 2,0 2,0 2,0 2,0 2,0 2,0 2,0 2,0 2,0 2,0 2,0 2,0 2,0 2,0 2,0 2,0 2,0 2,0 2,0 2,0 2,0 2,0 2,0 2,0 2,0 2,0 2,0 2,0 2,0 2,0 2,0 2,0 2,0 2,0 2,0 2,0 2,0 2,0 2,0 2,0 2,0 2,0 2,0 2,0 2,0 2,0 2,0 2,0 2,0 2,0 2,0 2,0 2,0 2,0 2,0 2,0 2,0 2,0 2,0 2,0 2,0 2,0 2,0 2,0 2,0 2,0 2,0 2,0 2,0 2,0 2,0 2,0 2,0 2,0 2,0 2,0 2,0 2,0 2,0 2,0 2,0 2,0 2,0 2,0 2,-0.1 2,0 2,0 2,0 2,0 2,0 2,0 2,0 2,-0.1 2,0 2,0 2,0 2,0 2,0 2,-0.1 2,0 2,0 2,0 2,0 2,-0.1 2,0 2,0 2,0 2,-0.1 2,0 2,0 2,0 2,0 2,-0.1 2,0 2,0 2,0 2,-0.1 2,0 2,0 2,0 2,0 2,-0.1 2,0 2,0 2,0 2,0 2,0 2,-0.1 2,0 2,0 2,0 2,0 2,0 2,0 2,0 2,-0.1 2,0 2,0 2,0 2,0 2,0 2,0 2,0 2,0 2,0 2,0 2,0 2,0 2,0 2,0 2,0 2,0 2,0.1 2,0 2,0 2,0 2,0 2,0 2,0.1 2,0 2,0 2,0 2,0 2,0.1 2,0 2,0 2,0 2,0.1 2,0 2,0 2,0 2,0.1 2,0 2,0 2,0.1 2,0 2,0 2,0 2,0.1 2,0 2,0 2,0.1 2,0 2,0 2,0 2,0.1 2,0 2,0 2,0.1 2,0 2,0 2,0 2,0.1 2,0 2,0 2,0 2,0.1 2,0 2,0 2,0 2,0 2,0.1 2,0 2,0 2,0 2,0.1 2,0 2,0 2,0 2,0.1 2,0 2,0 2,0 2,0.1 2,0 2,0 2,0.1 2,0 2,0 2,0 2,0.1 2,0 2,0 2,0.1 2,0 2,0 2,0.1 2,0 2,0 2,0.1 2,0 2,0 2,0.1 2,0 2,0.1 2,0 2,0 2,0.1 2,0 2,0.1 2,0 2,0.1 2,0 2,0.1 2,0 2,0.1 2,0 2,0.1 2,0 2,0.1 2,0.1 2,0 2,0.1 2,0.1 2,0.1 2,0.1 2,0 2,0.1 2,0.1 2,0.1 2,0.1 2,0.1 2,0.2 2,0.1 2,0.1 2,0.2 2,0.1 2,0.2 2,0.2 2,0.2 2,0.2 2,0.3 2,0.3 2,0.3 2,0.3 2,0.3 2,0.4 2,0.3 2,0.4 2,0.4 2,0.4 2,0.4 2,0.4 2,0.5 2,0.5 2,0.5 2,0.5 2,0.6 2,0.6 2,0.6 2,0.7 2,0.8 2,0.7 2,0.8 2,0.9 2,0.8 2,0.9 2,0.9 2,0.9 2,1 2,0.9 2,1 2,1 2,1 2,1 2,1.1 2,1.1 2,1.1 2,1.2 2,1.2 2,1.2 2,1.2 2,1.3 2,1.2 2,1.3 2,1.3 2,1.2 2,1.3 2,1.3 2,1.2 2,1.3 2,1.3 2,1.3 2,1.2 2,1.3 2,1.3 2,1.3 2,1.3 2,1.3 2,1.3 2,1.4 2,1.3 2,1.2 2,1.3 2,1.3 2,1.3 2,1.2 2,1.3 2,1.3 2,1.2 2,1.3 2,1.2 2,1.3 2,1.2 2,1.2 2,1.3 2,1.1 2,1.2 2,1.1 2,1.1 2,1.1 2,1 2,0.9 2,1 2,0.9 2,0.9 2,0.9 2,0.8 2,0.8 2,0.8 2,0.7 2,0.6 2,0.6 2,0.5 2,0.4 2,0.4 2,0.3 2,0.3 2,0.3 2,0.2 2,0.2 2,0.2 2,0.2 2,0.2 2,0.1 2,0.2 2,0.1 2,0.1 2,0 2,0 2,0 2,-0.1 2,-0.1 2,-0.2 2,-0.2 2,-0.3 2,-0.3 2,-0.3 2,-0.4 2,-0.4 2,-0.5 2,-0.5 2,-0.6 2,-0.6 2,-0.7 2,-0.7 2,-0.9 2,-0.9 2,-1 2,-1.1 2,-1 2,-1.2 2,-1.1 2,-1.2 2,-1.2 2,-1.2 2,-1.2 2,-1.2 2,-1.2 2,-1.2 2,-1.3 2,-1.3 2,-1.3 2,-1.3 2,-1.4 2,-1.3 2,-1.4 2,-1.4 2,-1.3 2,-1.4 2,-1.4 2,-1.3 2,-1.4 2,-1.3 2,-1.3 2,-1.4 2,-1.3 2,-1.3 2,-1.4 2,-1.3 2,-1.3 2,-1.3 2,-1.4 2,-1.2 2,-1.3 2,-1.3 2,-1.2 2,-1.3 2,-1.2 2,-1.2 2,-1.2 2,-1.1 2,-1.2 2,-1.1 2,-1.1 2,-1.1 2,-1.1 2,-1 2,-1 2,-1 2,-1 2,-0.9 2,-0.9 2,-0.9 2,-0.8 2,-0.9 2,-0.8 2,-0.8 2,-0.8 2,-0.7 2,-0.7 2,-0.7 2,-0.6 2,-0.7 2,-0.6 2,-0.5 2,-0.6 2,-0.5 2,-0.5 2,-0.5 2,-0.5 2,-0.5 2,-0.4 2,-0.4 2,-0.5 2,-0.4 2,-0.4 2,-0.4 2,-0.4 2,-0.4 2,-0.4 2,-0.3 2,-0.4 2,-0.3 2,-0.4 2,-0.3 2,-0.3 2,-0.3 2,-0.3 2,-0.3 2,-0.2 2,-0.3 2,-0.2 2,-0.3 2,-0.2 2,-0.2 2,-0.3 2,-0.2 2,-0.2 2,-0.2 2,-0.3 2,-0.2 2,-0.2 2,-0.2 2,-0.2 2,-0.2 2,-0.3 2,-0.2 2,-0.2 2,-0.2 2,-0.2 2,-0.2 2,-0.2 2,-0.2 2,-0.2 2,-0.2 2,-0.2 2,-0.2 2,-0.2 2,-0.2 2,-0.2 2,-0.1 2,-0.2 2,-0.2 2,-0.2 2,-0.1 2,-0.2 2,-0.2 2,-0.1 2,-0.2 2,-0.2 2,-0.1 2,-0.2 2,-0.1 2,-0.2 2,-0.1 2,-0.2 2,-0.1 2,-0.1 2,-0.2 2,-0.1 2,-0.2 2,-0.1 2,-0.2 2,-0.1 2,-0.2 2,-0.1 2,-0.1 2,-0.2 2,-0.1 2,-0.2 2,-0.1 2,-0.2 2,-0.2 2,-0.1 2,-0.2 2,-0.1 2,-0.2 2,-0.1 2,-0.2 2,-0.2 2,-0.1 2,-0.2 2,-0.1 2,-0.2 2,-0.1 2,-0.2 2,-0.1 2,-0.2 2,-0.1 2,-0.2 2,-0.1 2,-0.1 2,-0.2 2,-0.1 2,-0.1 2,-0.1 2,-0.1 2,-0.1 2,-0.1 2,-0.1 2,-0.1 2,-0.1 2,-0.1 2,0 2,-0.1 2,-0.1 2,-0.1 2,-0.1 2,0 2,-0.1 2,-0.1 2,-0.1 2,-0.1 2,-0.1 2,-0.1 2,-0.1 2,-0.2 2,-0.1 2,-0.2 2,-0.2 2,-0.3 2,-0.2 2,-0.4 2,-0.3 2,-0.4 2,-0.4 2,-0.4 2,-0.5 2,-0.5 2,-0.4 2,-0.5 2,-0.5 2,-0.4 2,-0.5 2,-0.4 2,-0.5 2,-0.5 2,-0.4 2,-0.5 2,-0.5 2,-0.5 2,-0.6 2,-0.5 2,-0.6 2,-0.7 2,-0.6 2,-0.7 2,-0.7 2,-0.7 2,-0.8 2,-0.8 2,-0.8 2,-0.8 2,-0.9 2,-0.9 2,-0.9 2,-0.9 2,-0.9 2,-1 2,-1 2,-1 2,-1.1 2,-1.1 2,-1.2 2,-1.2 2,-1.4 2,-1.4 2,-1.6 2,-1.7 2,-1.8 2,-1.9 2,-2.1 2,-2.1 2,-2.3 2,-2.4 2,-2.6 2,-2.6 2,-2.7 2,-2.9 2,-2.9 2,-3.1 2,-3.3 2,-3.5 2,-3.6 2,-3.8 2,-4 2,-4.1 2,-4.2 2,-4.4 2,-4.3 2,-4.4 2,-4.3 2,-4.2 2,-4.1 2,-4 2,-3.8 2,-3.5 2,-3.4 2,-3.2 2,-2.9 2,-2.8 2,-2.4 2,-2.2 2,-2 2,-1.8 2,-1.5 2,-1.3 2,-1.1 2,-1 2,-0.8 2,-0.6 2,-0.6 2,-0.4 2,-0.2 2,-0.2 2,0 2,0.1 2,0.3 2,0.4 2,0.6 2,0.7 2,0.9 2,1.1 2,1.3 2,1.5 2,1.7 2,1.8 2,2 2,2.3 2,2.4 2,2.7 2,2.9 2,3 2,3.3 2,3.4 2,3.6 2,3.8 2,3.9 2,4.1 2,4.2 2,4.4 2,4.6 2,4.6 2,4.9 2,5 2,5.1 2,5.2 2,5.4 2,5.4 2,5.5 2,5.5 2,5.5 2,5.4 2,5.1 2,5 2,4.7 2,4.3 2,3.9 2,3.6 2,3.1 2,2.8 2,2.3 2,2 2,1.7 2,1.4 2,1.2 2,1 2,0.9 2,0.7 2,0.6 2,0.5 2,0.4 2,0.4 2,0.3 2,0.2 2,0.2 2,0.2 2,0.1 2,0.1 2,0.1 2,0.1 2,0 2,0.1 2,0 2,0.1 2,0 2,0 2,0 2,0 2,0.1 2,0 2,0 2,-0.1 2,0 2,0 2,0 2,0 2,0 2,0 2,0 2,0 2,0 2,0 2,0 2,0 2,0 2,0 2,0 2,-0.1 2,0 2,0 2,0 2,0 2,0 2,0 2,0 2,0 2,0 2,-0.1 2,0 2,0 2,0 2,0 2,0 2,0 2,0 2,-0.1 2,0 2,0 2,0 2,0 2,0 2,0 2,-0.1 2,0 2,0 2,0 2,0 2,0 2,0 2,0 2,-0.1 2,0 2,0 2,0 2,0 2,0 2,-0.1 2,0 2,0 2,0 2,0 2,0 2,-0.1 2,0 2,0 2,0 2,0 2,-0.1 2,0 2,0 2,0 2,-0.1 2,0 2,0 2,0 2,-0.1 2,0 2,0 2,0 2,-0.1 2,0 2,0 2,0 2,-0.1 2,0 2,0 2,-0.1 2,0 2,0 2,0 2,-0.1 2,0 2,0 2,0 0.5,-0.1" fill="none" stroke="#ff0080" stroke-width="5.8" stroke-linejoin="round" stroke-linecap="butt"/>
<path d="M178.2,523.7l2,-0.1 2,-0.1 2,0 2,-0.1 2,-0.1 2,-0.1 2,-0.1 2,0 2,-0.1 2,-0.1 2,-0.1 2,-0.1 2,0 2,-0.1 2,-0.1 2,-0.1 2,0 2,-0.1 2,-0.1 2,-0.1 2,0 2,-0.1 2,-0.1 2,0 2,-0.1 2,-0.1 2,0 2,-0.1 2,-0.1 2,0 2,-0.1 2,-0.1 2,0 2,-0.1 2,0 2,-0.1 2,-0.1 2,0 2,-0.1 2,0 2,-0.1 2,0 2,-0.1 2,0 2,-0.1 2,0 2,-0.1 2,0 2,-0.1 2,0 2,-0.1 2,0 2,0 2,-0.1 2,0 2,-0.1 2,0 2,-0.1 2,0 2,0 2,-0.1 2,0 2,-0.1 2,0 2,-0.1 2,0 2,-0.1 2,0 2,-0.1 2,0 2,-0.1 2,0 2,-0.1 2,0 2,-0.1 2,0 2,-0.1 2,0 2,-0.1 2,0 2,-0.1 2,-0.1 2,0 2,-0.1 2,-0.1 2,0 2,-0.1 2,-0.1 2,0 2,-0.1 2,-0.1 2,-0.1 2,0 2,-0.1 2,-0.1 2,-0.1 2,0 2,-0.1 2,-0.1 2,-0.1 2,-0.1 2,-0.1 2,0 2,-0.1 2,-0.1 2,-0.1 2,-0.1 2,-0.1 2,-0.1 2,-0.1 2,-0.1 2,-0.1 2,-0.1 2,-0.1 2,-0.1 2,-0.1 2,-0.1 2,-0.1 2,-0.1 2,-0.1 2,-0.1 2,-0.1 2,-0.1 2,-0.1 2,-0.1 2,-0.2 2,-0.1 2,-0.1 2,-0.1 2,-0.1 2,-0.1 2,-0.2 2,-0.1 2,-0.1 2,-0.1 2,-0.2 2,-0.1 2,-0.2 2,-0.1 2,-0.2 2,-0.2 2,-0.1 2,-0.2 2,-0.2 2,-0.2 2,-0.3 2,-0.2 2,-0.2 2,-0.3 2,-0.3 2,-0.3 2,-0.4 2,-0.4 2,-0.3 2,-0.5 2,-0.4 2,-0.5 2,-0.5 2,-0.5 2,-0.6 2,-0.6 2,-0.6 2,-0.7 2,-0.8 2,-0.8 2,-0.8 2,-0.9 2,-1 2,-1 2,-1.1 2,-1.2 2,-1.2 2,-1.3 2,-1.4 2,-1.4 2,-1.6 2,-1.7 2,-1.8 2,-1.9 2,-2 2,-2.1 2,-2.1 2,-2.2 2,-2.2 2,-2.2 2,-2.2 2,-2.1 2,-1.9 2,-1.7 2,-1.5 2,-1.2 2,-0.9 2,-0.7 2,-0.4 2,0 2,0.3 2,0.6 2,0.9 2,1.2 2,1.4 2,1.7 2,1.9 2,2 2,2.3 2,2.3 2,2.4 2,2.5 2,2.4 2,2.3 2,2.1 2,2 2,1.8 2,1.6 2,1.5 2,1.2 2,1.1 2,0.9 2,0.8 2,0.6 2,0.6 2,0.5 2,0.4 2,0.4 2,0.3 2,0.3 2,0.4 2,0.3 2,0.3 2,0.3 2,0.3 2,0.4 2,0.4 2,0.4 2,0.4 2,0.5 2,0.5 2,0.5 2,0.5 2,0.6 2,0.5 2,0.5 2,0.6 2,0.5 2,0.5 2,0.6 2,0.5 2,0.5 2,0.5 2,0.5 2,0.5 2,0.5 2,0.4 2,0.4 2,0.4 2,0.3 2,0.4 2,0.2 2,0.3 2,0.2 2,0.2 2,0.1 2,0.2 2,0.2 2,0.1 2,0.1 2,0.2 2,0.1 2,0.2 2,0.1 2,0.2 2,0.1 2,0.2 2,0.1 2,0.2 2,0.1 2,0.2 2,0.1 2,0.2 2,0.1 2,0.2 2,0.2 2,0.1 2,0.2 2,0.2 2,0.2 2,0.3 2,0.2 2,0.3 2,0.2 2,0.3 2,0.3 2,0.4 2,0.3 2,0.3 2,0.4 2,0.4 2,0.3 2,0.4 2,0.4 2,0.4 2,0.4 2,0.4 2,0.4 2,0.4 2,0.4 2,0.4 2,0.5 2,0.5 2,0.4 2,0.5 2,0.5 2,0.4 2,0.5 2,0.5 2,0.4 2,0.5 2,0.5 2,0.4 2,0.5 2,0.4 2,0.4 2,0.5 2,0.4 2,0.4 2,0.4 2,0.4 2,0.4 2,0.5 2,0.4 2,0.4 2,0.4 2,0.4 2,0.4 2,0.4 2,0.4 2,0.4 2,0.3 2,0.4 2,0.4 2,0.4 2,0.4 2,0.4 2,0.4 2,0.4 2,0.4 2,0.4 2,0.4 2,0.4 2,0.4 2,0.4 2,0.4 2,0.4 2,0.4 2,0.5 2,0.4 2,0.4 2,0.4 2,0.4 2,0.4 2,0.3 2,0.4 2,0.3 2,0.3 2,0.3 2,0.3 2,0.2 2,0.3 2,0.2 2,0.2 2,0.3 2,0.2 2,0.2 2,0.2 2,0.2 2,0.1 2,0.2 2,0.1 2,0.1 2,0.1 2,0 2,0.1 2,0 2,0 2,-0.1 2,0 2,0 2,-0.1 2,-0.1 2,0 2,-0.1 2,-0.1 2,-0.1 2,-0.1 2,-0.1 2,-0.1 2,-0.2 2,-0.2 2,-0.2 2,-0.3 2,-0.3 2,-0.4 2,-0.4 2,-0.4 2,-0.5 2,-0.5 2,-0.5 2,-0.6 2,-0.5 2,-0.6 2,-0.5 2,-0.6 2,-0.6 2,-0.6 2,-0.6 2,-0.7 2,-0.6 2,-0.7 2,-0.7 2,-0.7 2,-0.8 2,-0.7 2,-0.7 2,-0.6 2,-0.7 2,-0.6 2,-0.6 2,-0.6 2,-0.6 2,-0.5 2,-0.6 2,-0.5 2,-0.5 2,-0.5 2,-0.5 2,-0.5 2,-0.5 2,-0.5 2,-0.5 2,-0.5 2,-0.5 2,-0.5 2,-0.6 2,-0.5 2,-0.5 2,-0.5 2,-0.5 2,-0.5 2,-0.5 2,-0.5 2,-0.5 2,-0.5 2,-0.4 2,-0.5 2,-0.4 2,-0.4 2,-0.4 2,-0.4 2,-0.4 2,-0.4 2,-0.4 2,-0.3 2,-0.4 2,-0.3 2,-0.4 2,-0.3 2,-0.4 2,-0.3 2,-0.3 2,-0.3 2,-0.4 2,-0.3 2,-0.3 2,-0.3 2,-0.3 2,-0.2 2,-0.3 2,-0.3 2,-0.3 2,-0.2 2,-0.3 2,-0.2 2,-0.3 2,-0.2 2,-0.3 2,-0.2 2,-0.2 2,-0.2 2,-0.3 2,-0.2 2,-0.2 2,-0.2 2,-0.2 2,-0.2 2,-0.2 2,-0.2 2,-0.2 2,-0.2 2,-0.2 2,-0.2 2,-0.1 2,-0.2 2,-0.2 2,-0.1 2,-0.2 2,-0.2 2,-0.1 2,-0.2 2,-0.1 2,-0.2 2,-0.1 2,-0.1 2,-0.2 2,-0.1 2,-0.1 2,-0.2 2,-0.1 2,-0.1 2,-0.1 2,-0.1 2,-0.2 2,-0.1 2,-0.1 2,-0.1 2,-0.1 2,-0.1 2,-0.1 2,-0.1 2,-0.1 2,-0.1 2,-0.1 2,-0.1 2,-0.1 2,-0.1 2,-0.1 2,-0.1 2,-0.1 2,0 2,-0.1 2,-0.1 2,-0.1 2,-0.1 2,0 2,-0.1 2,-0.1 2,-0.1 2,0 2,-0.1 2,-0.1 2,-0.1 2,0 2,-0.1 2,-0.1 2,-0.1 2,-0.1 2,0 2,-0.1 2,-0.1 2,-0.1 2,-0.1 2,0 2,-0.1 2,-0.1 2,-0.1 2,-0.1 2,-0.1 2,-0.1 2,-0.1 2,0 2,-0.1 2,-0.1 2,-0.1 2,-0.1 2,-0.1 2,0 2,-0.1 2,-0.1 2,-0.1 2,0 2,-0.1 2,0 2,-0.1 2,-0.1 2,0 2,-0.1 2,0 2,-0.1 2,0 2,-0.1 2,0 2,-0.1 2,0 2,0 2,-0.1 2,0 2,-0.1 2,0 2,-0.1 2,0 2,0 2,-0.1 2,0 2,-0.1 2,0 2,0 2,-0.1 2,0 2,0 2,-0.1 2,0 2,0 2,-0.1 2,0 2,0 2,-0.1 2,0 2,-0.1 2,0 2,0 2,-0.1 2,0 2,0 2,-0.1 2,0 2,0 2,-0.1 2,0 2,-0.1 2,0 2,0 2,-0.1 2,0 2,0 2,-0.1 2,0 2,-0.1 2,0 2,0 2,-0.1 2,0 2,-0.1 2,0 2,0 2,-0.1 2,0 2,0 2,-0.1 2,0 2,-0.1 2,0 2,0 2,-0.1 2,0 2,0 2,-0.1 2,0 2,-0.1 2,0 2,0 2,-0.1 2,0 2,0 2,-0.1 2,0 2,-0.1 2,0 2,0 2,-0.1 2,0 2,-0.1 2,0 2,-0.1 2,0 2,0 2,-0.1 2,0 2,-0.1 2,0 2,-0.1 2,0 2,-0.1 2,0 2,-0.1 2,0 2,-0.1 2,0 2,-0.1 2,0 2,-0.1 2,0 2,-0.1 2,-0.1 2,0 2,-0.1 2,0 2,-0.1 2,-0.1 2,0 2,-0.1 2,-0.1 2,0 2,-0.1 2,-0.1 2,0 2,-0.1 2,0 2,-0.1 2,-0.1 2,0 2,-0.1 2,-0.1 2,0 2,-0.1 2,-0.1 2,0 2,-0.1 2,-0.1 2,0 2,-0.1 2,-0.1 2,0 2,-0.1 2,0 2,-0.1 2,0 2,-0.1 2,-0.1 2,0 2,-0.1 2,0 2,-0.1 2,0 2,-0.1 2,0 2,0 2,-0.1 2,0 2,-0.1 2,0 2,-0.1 2,0 2,-0.1 2,0 2,0 2,-0.1 2,0 2,-0.1 2,0 2,0 2,-0.1 2,0 2,-0.1 2,0 2,0 2,0 2,-0.1 2,0 2,0 2,-0.1 2,0 2,0 2,0 2,-0.1 2,0 2,0 2,0 2,-0.1 2,0 2,0 2,0 2,-0.1 2,0 2,0 2,0 2,0 2,-0.1 2,0 2,0 2,0 2,0 2,0 2,0.1 2,0.1 2,0.1 2,0.1 2,0.2 2,0.2 2,0.3 2,0.3 2,0.4 2,0.4 2,0.5 2,0.6 2,0.6 2,0.6 2,0.7 2,0.7 2,0.8 2,0.7 2,0.7 2,0.7 2,0.7 2,0.6 2,0.6 2,0.5 2,0.5 2,0.4 2,0.4 2,0.3 2,0.3 2,0.2 2,0.1 2,0 2,0 2,0 2,-0.1 2,-0.1 2,-0.1 2,-0.1 2,-0.2 2,-0.2 2,-0.2 2,-0.3 2,-0.4 2,-0.4 2,-0.5 2,-0.5 2,-0.6 2,-0.7 2,-0.6 2,-0.7 2,-0.8 2,-0.8 2,-0.7 2,-0.9 2,-0.8 2,-0.9 2,-1 2,-0.9 2,-1 2,-1.1 2,-1 2,-1.1 2,-1.2 2,-1.1 2,-1.2 2,-1.1 2,-1.2 2,-1.3 2,-1.2 2,-1.3 2,-1.4 2,-1.4 2,-1.4 2,-1.4 2,-1.5 2,-1.5 2,-1.5 2,-1.6 2,-1.5 2,-1.5 2,-1.5 2,-1.5 2,-1.5 2,-1.5 2,-1.6 2,-1.6 2,-1.7 2,-1.7 2,-1.8 2,-1.8 2,-1.9 2,-1.9 2,-1.9 2,-2.1 2,-2 2,-2.1 2,-2.1 2,-2.2 2,-2.2 2,-2.2 2,-2.4 2,-2.3 2,-2.5 2,-2.6 2,-2.7 2,-2.9 2,-2.9 2,-3.1 2,-3.1 2,-3.3 2,-3.3 2,-3.3 2,-3.4 2,-3.5 2,-3.7 2,-4.1 2,-4.5 2,-4.8 2,-5 2,-5 2,-4.7 2,-4.4 2,-3.8 2,-3.1 2,-2.4 2,-1.6 2,-0.9 2,-0.4 2,-0.2 2,-0.2 2,-0.6 2,-1.2 2,-1.8 2,-2.4 2,-3.1 2,-3.6 2,-4.1 2,-4.4 2,-4.7 2,-4.8 2,-4.9 2,-4.7 2,-4.4 2,-3.9 2,-3.4 2,-2.8 2,-2.1 2,-1.3 2,-0.4 2,0.5 2,1.3 2,2.3 2,3 2,3.8 2,4.5 2,5.1 2,5.8 2,6.1 2,6.5 2,6.6 2,6.4 2,6.2 2,5.9 2,5.4 2,5 2,4.5 2,4 2,3.7 2,3.4 2,3.3 2,3.3 2,3.3 2,3.4 2,3.6 2,3.9 2,4 2,4.2 2,4.4 2,4.5 2,4.6 2,4.7 2,4.6 2,4.7 2,4.5 2,4.5 2,4.3 2,4.1 2,4 2,3.7 2,3.6 2,3.3 2,3.1 2,3 2,2.7 2,2.4 2,2.3 2,2.1 2,1.8 2,1.6 2,1.5 2,1.2 2,1.1 2,1 2,0.8 2,0.6 2,0.6 2,0.4 2,0.4 2,0.3 2,0.3 2,0.1 2,0.2 2,0.1 2,0.1 2,0.1 2,0.1 2,0 2,0.1 2,0 2,0.1 2,0 2,0 2,0 2,0 2,0 2,0 2,0 2,0 2,0 2,0 2,0 2,0 2,0 2,0 2,0 2,0 2,0 2,0 2,0 2,0 2,0 2,0 2,0 2,0 2,0 2,0 2,0 2,0 2,0 2,0 2,0 2,0 2,0 2,0 2,0 2,0 2,0 2,0 2,0 2,0 2,0 2,0 2,0 2,0 2,0 2,0 2,0 2,0 2,0 2,0 2,0 2,0 2,0 2,0 2,0 2,0 2,0 2,0 2,0 2,0 2,0 2,0 2,0 2,0 2,0 2,0 2,0 2,0 2,0 2,0 2,0 2,0 2,0 2,0 2,0 2,0 2,0 2,0 1.3,0" fill="none" stroke="#404040" stroke-width="5.8" stroke-linejoin="round" stroke-linecap="butt"/>
<path d="M180.5,1891.0l2,0 2,-0.1 2,0 2,0 2,0 2,-0.1 2,0 2,0 2,0 2,-0.1 2,0 2,0 2,0 2,-0.1 2,0 2,0 2,-0.1 2,0 2,0 2,0 2,-0.1 2,0 2,0 2,-0.1 2,0 2,0 2,-0.1 2,0 2,0 2,0 2,-0.1 2,0 2,0 2,-0.1 2,0 2,0 2,-0.1 2,0 2,0 2,-0.1 2,0 2,0 2,-0.1 2,0 2,-0.1 2,0 2,0 2,-0.1 2,0 2,0 2,-0.1 2,0 2,-0.1 2,0 2,0 2,-0.1 2,0 2,0 2,-0.1 2,0 2,-0.1 2,0 2,-0.1 2,0 2,0 2,-0.1 2,0 2,-0.1 2,0 2,0 2,-0.1 2,0 2,-0.1 2,0 2,-0.1 2,0 2,0 2,-0.1 2,0 2,-0.1 2,0 2,-0.1 2,0 2,-0.1 2,0 2,-0.1 2,0 2,0 2,-0.1 2,0 2,-0.1 2,0 2,0 2,-0.1 2,0 2,0 2,-0.1 2,0 2,-0.1 2,0 2,0 2,-0.1 2,0 2,-0.1 2,0 2,-0.1 2,0 2,-0.1 2,0 2,-0.1 2,0 2,-0.1 2,0 2,-0.1 2,-0.1 2,-0.1 2,0 2,-0.1 2,-0.1 2,-0.1 2,-0.1 2,-0.1 2,-0.1 2,-0.2 2,-0.2 2,-0.2 2,-0.3 2,-0.2 2,-0.3 2,-0.3 2,-0.3 2,-0.4 2,-0.4 2,-0.3 2,-0.4 2,-0.4 2,-0.4 2,-0.5 2,-0.5 2,-0.4 2,-0.6 2,-0.5 2,-0.5 2,-0.6 2,-0.6 2,-0.6 2,-0.7 2,-0.6 2,-0.7 2,-0.8 2,-0.7 2,-0.8 2,-0.8 2,-0.8 2,-0.8 2,-0.9 2,-0.8 2,-0.9 2,-0.9 2,-0.9 2,-0.9 2,-0.9 2,-1 2,-0.9 2,-0.9 2,-0.8 2,-0.8 2,-0.8 2,-0.6 2,-0.7 2,-0.5 2,-0.5 2,-0.4 2,-0.3 2,-0.2 2,-0.2 2,-0.1 2,-0.1 2,0 2,0.1 2,0.1 2,0.1 2,0.2 2,0.3 2,0.3 2,0.3 2,0.4 2,0.4 2,0.4 2,0.4 2,0.5 2,0.4 2,0.3 2,0.4 2,0.2 2,0.3 2,0.2 2,0.1 2,0.2 2,0.1 2,0.1 2,0.1 2,0.1 2,0.1 2,0.1 2,0.1 2,0 2,0 2,0.1 2,0 2,0 2,0 2,0 2,0 2,0 2,0 2,0 2,0 2,0 2,0 2,0 2,0 2,-0.1 2,0 2,0 2,0 2,0 2,0 2,0 2,0 2,0 2,0 2,0 2,-0.1 2,0 2,0 2,0 2,0 2,0 2,0 2,0 2,-0.1 2,0 2,0 2,0 2,0 2,0 2,0 2,-0.1 2,0 2,0 2,0 2,0 2,0 2,0 2,0 2,-0.1 2,0 2,0 2,0 2,0 2,0 2,-0.1 2,0 2,0 2,0 2,0 2,-0.1 2,0 2,0 2,0 2,0 2,-0.1 2,0 2,0 2,0 2,-0.1 2,0 2,0 2,-0.1 2,0 2,0 2,0 2,-0.1 2,0 2,0 2,0 2,-0.1 2,0 2,0 2,0 2,-0.1 2,0 2,0 2,0 2,-0.1 2,0 2,0 2,0 2,0 2,0 2,0 2,-0.1 2,0 2,0 2,0 2,0 2,0 2,0 2,0 2,0 2,0 2,0 2,0 2,0 2,0 2,0 2,0 2,0 2,0 2,0 2,0 2,0 2,0 2,0 2,0 2,0 2,0 2,0 2,0 2,0 2,0 2,0 2,0 2,0 2,0 2,0 2,0 2,0 2,0 2,0 2,0 2,0 2,0 2,0 2,0 2,0 2,0 2,0 2,0 2,0 2,0 2,0 2,0 2,0 2,0 2,0 2,0 2,0 2,0 2,0 2,0 2,0 2,0 2,0 2,0 2,0 2,0 2,0 2,0 2,0 2,0 2,0 2,0 2,0 2,0 2,0 2,0 2,0 2,0 2,0 2,0 2,0 2,0 2,0 2,0 2,0 2,0 2,0 2,0 2,0 2,0 2,0 2,0 2,0 2,0 2,0 2,0 2,0 2,0 2,0 2,0 2,0 2,0 2,0 2,0 2,0 2,0.1 2,0 2,0 2,0 2,0 2,0 2,0.1 2,0 2,0 2,0 2,0.1 2,0 2,0 2,0 2,0.1 2,0 2,0 2,0.1 2,0 2,0 2,0.1 2,0 2,0.1 2,0 2,0 2,0.1 2,0 2,0 2,0.1 2,0 2,0.1 2,0 2,0.1 2,0 2,0 2,0.1 2,0 2,0.1 2,0 2,0.1 2,0 2,0.1 2,0 2,0.1 2,0 2,0.1 2,0 2,0.1 2,0 2,0.1 2,0 2,0.1 2,0.1 2,0.1 2,0 2,0.1 2,0.1 2,0.1 2,0.1 2,0 2,0.1 2,0.1 2,0.1 2,0.1 2,0.2 2,0.1 2,0.1 2,0.2 2,0.1 2,0.2 2,0.2 2,0.2 2,0.2 2,0.3 2,0.2 2,0.3 2,0.3 2,0.3 2,0.3 2,0.4 2,0.3 2,0.3 2,0.4 2,0.4 2,0.4 2,0.4 2,0.4 2,0.4 2,0.5 2,0.5 2,0.5 2,0.5 2,0.5 2,0.6 2,0.6 2,0.6 2,0.6 2,0.7 2,0.7 2,0.8 2,0.7 2,0.8 2,0.9 2,0.9 2,0.9 2,1 2,1 2,1 2,1 2,1.1 2,1.1 2,1.1 2,1.1 2,1.2 2,1.3 2,1.3 2,1.3 2,1.3 2,1.4 2,1.4 2,1.5 2,1.5 2,1.4 2,1.5 2,1.5 2,1.5 2,1.5 2,1.5 2,1.5 2,1.5 2,1.5 2,1.5 2,1.5 2,1.5 2,1.5 2,1.6 2,1.5 2,1.5 2,1.5 2,1.5 2,1.4 2,1.5 2,1.4 2,1.5 2,1.4 2,1.4 2,1.4 2,1.3 2,1.4 2,1.4 2,1.3 2,1.3 2,1.3 2,1.3 2,1.3 2,1.2 2,1.3 2,1.2 2,1.3 2,1.2 2,1.2 2,1.2 2,1.1 2,1.2 2,1 2,1.1 2,1 2,0.9 2,0.9 2,0.9 2,0.8 2,0.7 2,0.7 2,0.7 2,0.7 2,0.6 2,0.6 2,0.5 2,0.4 2,0.3 2,0.3 2,0.2 2,0.1 2,0 2,0 2,-0.1 2,-0.1 2,-0.1 2,-0.2 2,-0.2 2,-0.3 2,-0.3 2,-0.4 2,-0.5 2,-0.5 2,-0.7 2,-0.8 2,-0.8 2,-0.9 2,-1 2,-1.1 2,-1 2,-1.2 2,-1.1 2,-1.2 2,-1.2 2,-1.2 2,-1.3 2,-1.3 2,-1.4 2,-1.3 2,-1.4 2,-1.5 2,-1.4 2,-1.4 2,-1.5 2,-1.4 2,-1.5 2,-1.4 2,-1.5 2,-1.5 2,-1.4 2,-1.5 2,-1.5 2,-1.6 2,-1.5 2,-1.6 2,-1.5 2,-1.6 2,-1.6 2,-1.6 2,-1.6 2,-1.7 2,-1.6 2,-1.6 2,-1.6 2,-1.6 2,-1.6 2,-1.5 2,-1.6 2,-1.5 2,-1.5 2,-1.5 2,-1.5 2,-1.5 2,-1.4 2,-1.4 2,-1.4 2,-1.4 2,-1.3 2,-1.3 2,-1.2 2,-1.3 2,-1.1 2,-1.2 2,-1.1 2,-1.1 2,-1 2,-1.1 2,-1 2,-0.9 2,-0.9 2,-0.9 2,-0.8 2,-0.8 2,-0.8 2,-0.7 2,-0.7 2,-0.7 2,-0.6 2,-0.6 2,-0.6 2,-0.6 2,-0.5 2,-0.6 2,-0.5 2,-0.5 2,-0.5 2,-0.5 2,-0.5 2,-0.5 2,-0.4 2,-0.5 2,-0.4 2,-0.4 2,-0.5 2,-0.4 2,-0.4 2,-0.4 2,-0.4 2,-0.4 2,-0.4 2,-0.4 2,-0.4 2,-0.3 2,-0.4 2,-0.4 2,-0.3 2,-0.4 2,-0.3 2,-0.3 2,-0.4 2,-0.3 2,-0.3 2,-0.3 2,-0.2 2,-0.3 2,-0.3 2,-0.3 2,-0.2 2,-0.3 2,-0.3 2,-0.2 2,-0.3 2,-0.2 2,-0.3 2,-0.2 2,-0.2 2,-0.3 2,-0.2 2,-0.2 2,-0.3 2,-0.2 2,-0.2 2,-0.2 2,-0.3 2,-0.2 2,-0.2 2,-0.2 2,-0.2 2,-0.2 2,-0.3 2,-0.2 2,-0.2 2,-0.2 2,-0.2 2,-0.2 2,-0.2 2,-0.2 2,-0.2 2,-0.2 2,-0.2 2,-0.2 2,-0.1 2,-0.2 2,-0.2 2,-0.2 2,-0.2 2,-0.2 2,-0.2 2,-0.2 2,-0.2 2,-0.2 2,-0.2 2,-0.2 2,-0.2 2,-0.2 2,-0.2 2,-0.2 2,-0.2 2,-0.3 2,-0.2 2,-0.2 2,-0.2 2,-0.2 2,-0.2 2,-0.2 2,-0.2 2,-0.2 2,-0.2 2,-0.2 2,-0.2 2,-0.2 2,-0.2 2,-0.2 2,-0.1 2,-0.2 2,-0.2 2,-0.1 2,-0.2 2,-0.1 2,-0.2 2,-0.1 2,-0.1 2,-0.2 2,-0.1 2,-0.1 2,-0.1 2,-0.1 2,-0.2 2,-0.1 2,-0.1 2,-0.1 2,-0.2 2,-0.1 2,-0.2 2,-0.1 2,-0.2 2,-0.2 2,-0.2 2,-0.2 2,-0.3 2,-0.2 2,-0.4 2,-0.3 2,-0.4 2,-0.5 2,-0.5 2,-0.5 2,-0.5 2,-0.6 2,-0.6 2,-0.5 2,-0.6 2,-0.6 2,-0.5 2,-0.6 2,-0.6 2,-0.5 2,-0.6 2,-0.6 2,-0.6 2,-0.6 2,-0.6 2,-0.7 2,-0.6 2,-0.7 2,-0.6 2,-0.7 2,-0.7 2,-0.8 2,-0.7 2,-0.8 2,-0.8 2,-0.8 2,-0.8 2,-0.9 2,-0.8 2,-0.9 2,-0.9 2,-1 2,-1 2,-1 2,-1 2,-1.1 2,-1.1 2,-1.2 2,-1.2 2,-1.3 2,-1.3 2,-1.4 2,-1.5 2,-1.5 2,-1.7 2,-1.6 2,-1.8 2,-1.9 2,-2 2,-2.1 2,-2.2 2,-2.4 2,-2.5 2,-2.6 2,-2.9 2,-3.1 2,-3.3 2,-3.5 2,-3.8 2,-3.9 2,-4.2 2,-4.2 2,-4.4 2,-4.5 2,-4.5 2,-4.6 2,-4.7 2,-4.6 2,-4.6 2,-4.6 2,-4.6 2,-4.4 2,-4.4 2,-4.2 2,-4 2,-3.9 2,-3.6 2,-3.3 2,-3.1 2,-2.8 2,-2.5 2,-2.2 2,-2 2,-1.6 2,-1.4 2,-1.1 2,-0.7 2,-0.5 2,-0.2 2,0 2,0.3 2,0.5 2,0.7 2,1 2,1.1 2,1.4 2,1.5 2,1.8 2,1.9 2,2.2 2,2.3 2,2.7 2,2.8 2,3.1 2,3.3 2,3.6 2,3.7 2,4 2,4.2 2,4.2 2,4.4 2,4.4 2,4.5 2,4.5 2,4.6 2,4.5 2,4.6 2,4.7 2,4.7 2,4.8 2,4.9 2,5.1 2,5.1 2,5.3 2,5.4 2,5.5 2,5.5 2,5.5 2,5.5 2,5.4 2,5.2 2,5 2,4.6 2,4.2 2,3.8 2,3.3 2,2.9 2,2.4 2,2.1 2,1.7 2,1.4 2,1.2 2,1 2,0.8 2,0.7 2,0.6 2,0.6 2,0.4 2,0.3 2,0.3 2,0.1 2,0.2 2,0.1 2,0.1 2,0 2,0.1 2,0 2,0 2,0 2,0 2,0 2,0 2,0 2,0 2,0 2,0 2,0 2,0 2,0 2,0 2,0 2,0 2,0 2,0 2,0 2,0 2,0 2,0 2,0 2,0 2,0 2,0 2,0 2,0 2,0 2,0 2,0 2,0 2,0 2,-0.1 2,0 2,0 2,0 2,0 2,0 2,0 2,-0.1 2,0 2,0 2,0 2,0 2,0 2,-0.1 2,0 2,0 2,0 2,0 2,-0.1 2,0 2,0 2,0 2,0 2,-0.1 2,0 2,0 2,0 2,0 2,0 2,-0.1 2,0 2,0 2,0 2,0 2,-0.1 2,0 2,0 2,0 2,0 2,-0.1 2,0 2,0 2,0 2,0 2,-0.1 2,0 2,0 2,0 2,0 2,-0.1 2,0 2,0 2,0 2,-0.1 2,0 2,0 2,0 2,0 2,-0.1 2,0 2,0 2,0 2,-0.1 2,0 2,0 2,0 2,-0.1 2,0 2,0 2,0 0.5,0" fill="none" stroke="#404040" stroke-width="5.8" stroke-linejoin="round" stroke-linecap="butt"/>
<path d="M1137,109.0 H1298" stroke="#0000ff" stroke-width="6.5" stroke-linecap="round"/>
<text transform="translate(1315.65,129.40) scale(1,1.0407)" style="font-size:64.00px" text-anchor="start">PLA</text>
<path d="M1137,187.0 H1298" stroke="#ff8000" stroke-width="6.5" stroke-linecap="round"/>
<text transform="translate(1315.65,207.40) scale(1,1.0407)" style="font-size:64.00px" text-anchor="start">PLA + 1%  HA</text>
<path d="M1137,265.0 H1298" stroke="#008000" stroke-width="6.5" stroke-linecap="round"/>
<text transform="translate(1315.65,285.40) scale(1,1.0407)" style="font-size:64.00px" text-anchor="start">PLA + 2%  HA</text>
<path d="M1137,343.0 H1298" stroke="#ff0080" stroke-width="6.5" stroke-linecap="round"/>
<text transform="translate(1315.65,363.40) scale(1,1.0407)" style="font-size:64.00px" text-anchor="start">PLA + 5%  HA</text>
<path d="M1137,421.0 H1298" stroke="#404040" stroke-width="6.5" stroke-linecap="round"/>
<text transform="translate(1315.65,441.40) scale(1,1.0407)" style="font-size:64.00px" text-anchor="start">PLA + 10% HA</text>
<text transform="translate(237.99,124.50) scale(1,1.0000)" style="font-size:84.00px" text-anchor="start">(a)</text>
<text transform="translate(237.29,1520.20) scale(1,1.0000)" style="font-size:84.00px" text-anchor="start">(b)</text>
<text transform="translate(255.83,337.00) scale(1,1.0407)" style="font-size:59.00px" text-anchor="start">2 mW</text>
<text transform="translate(264.03,1698.75) scale(1,1.0407)" style="font-size:59.00px" text-anchor="start">2 mW</text>
<path d="M228.75,276.35 L231.75,343.40" stroke="#000" stroke-width="2.6"/><path d="M228.75,258.75 L221.75,280.75 L235.75,280.75 Z" fill="#000"/><path d="M231.75,361.00 L224.75,339.00 L238.75,339.00 Z" fill="#000"/>
<path d="M241.25,1636.40 L241.25,1710.35" stroke="#000" stroke-width="2.6"/><path d="M241.25,1618.00 L234.75,1641.00 L247.75,1641.00 Z" fill="#000"/><path d="M241.25,1728.75 L234.75,1705.75 L247.75,1705.75 Z" fill="#000"/>
<path d="M104.50,378.75 V286.35" stroke="#000" stroke-width="2.8"/><path d="M104.50,268.75 L98.50,290.75 L110.50,290.75 Z" fill="#000"/>
<path d="M119.50,1745.00 V1653.00" stroke="#000" stroke-width="2.8"/><path d="M119.50,1635.00 L113.00,1657.50 L126.00,1657.50 Z" fill="#000"/>
<text transform="translate(78.80,396.40) rotate(-90) scale(1,1.0407)" style="font-size:69.50px" text-anchor="start">Endo</text>
<text transform="translate(83.00,921.08) rotate(-90) scale(1,1.0407)" style="font-size:69.30px" text-anchor="start">Heat</text>
<text transform="translate(83.00,735.18) rotate(-90) scale(1,1.0407)" style="font-size:69.30px" text-anchor="start">Flow</text>
<text transform="translate(91.70,1756.77) rotate(-90) scale(1,1.0407)" style="font-size:63.00px" text-anchor="start">Endo</text>
<text transform="translate(101.10,2296.85) rotate(-90) scale(1,1.0407)" style="font-size:75.00px" text-anchor="start">Heat</text>
<text transform="translate(101.10,2096.55) rotate(-90) scale(1,1.0407)" style="font-size:75.00px" text-anchor="start">Flow</text>
<text transform="translate(965.10,1354.20) scale(1,1.0407)" style="font-size:75.60px">Temperature (<tspan x="476.48" y="-24.67" style="font-size:52.74px">o</tspan><tspan x="504.96" y="0">C</tspan><tspan x="563.46" y="0">)</tspan></text>
<text transform="translate(944.09,2729.20) scale(1,1.0823)" style="font-size:80.80px">Temperature (<tspan x="508.89" y="-27.82" style="font-size:55.28px">o</tspan><tspan x="538.61" y="0">C</tspan><tspan x="601.04" y="0">)</tspan></text>
<text transform="translate(443.11,445.60) scale(1,1.0407)" style="font-size:70.00px;font-style:italic" text-anchor="start">T</text><text transform="translate(483.67,472.00) scale(1,1.0407)" style="font-size:40.00px;font-style:italic" text-anchor="start">g</text>
<text transform="translate(960.76,447.60) scale(1,1.0407)" style="font-size:70.00px;font-style:italic" text-anchor="start">T</text><text transform="translate(1001.39,474.50) scale(1,1.0407)" style="font-size:40.00px;font-style:italic" text-anchor="start">c</text>
<text transform="translate(1899.51,291.40) scale(1,1.0407)" style="font-size:70.00px;font-style:italic" text-anchor="start">T</text><text transform="translate(1939.84,319.30) scale(1,1.0407)" style="font-size:40.00px;font-style:italic" text-anchor="start">m</text>
<text transform="translate(410.75,1797.40) scale(1,1.0407)" style="font-size:68.50px;font-style:italic" text-anchor="start">T</text><text transform="translate(451.12,1823.50) scale(1,1.0407)" style="font-size:40.00px;font-style:italic" text-anchor="start">g</text>
<text transform="translate(1291.55,1791.30) scale(1,1.0407)" style="font-size:68.50px;font-style:italic" text-anchor="start">T</text><text transform="translate(1331.69,1817.20) scale(1,1.0407)" style="font-size:40.00px;font-style:italic" text-anchor="start">c</text>
<text transform="translate(1901.85,1617.10) scale(1,1.0407)" style="font-size:68.50px;font-style:italic" text-anchor="start">T</text><text transform="translate(1942.14,1643.10) scale(1,1.0407)" style="font-size:40.00px;font-style:italic" text-anchor="start">m</text>
</svg>
</div>
</body></html>
